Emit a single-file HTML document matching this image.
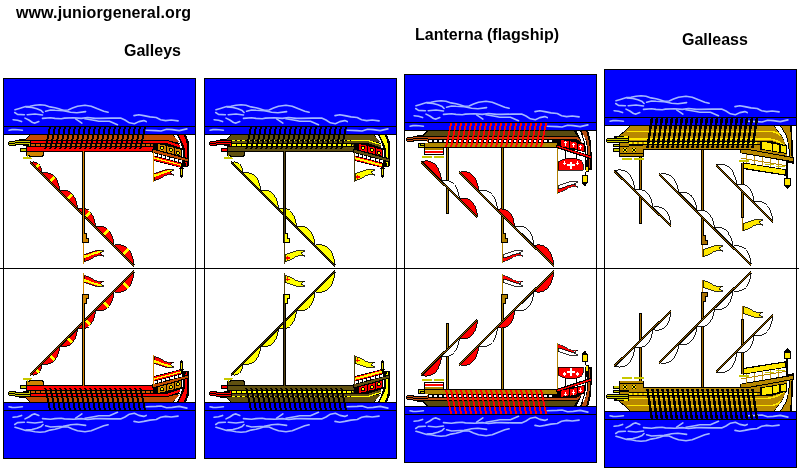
<!DOCTYPE html>
<html><head><meta charset="utf-8"><style>
html,body{margin:0;padding:0;background:#fff;width:800px;height:473px;overflow:hidden}
svg{display:block}
text{font-family:"Liberation Sans",sans-serif;font-weight:bold;font-size:16px;fill:#000}
.tx{will-change:transform}
</style></head><body>
<svg shape-rendering="crispEdges" width="800" height="473" viewBox="0 0 800 473">
<rect width="800" height="473" fill="#fff"/>
<defs><g id="p0"><rect x="4" y="79" width="191" height="55" fill="#0000ff"/>
<rect x="4" y="126" width="191" height="1" fill="#000"/>
<rect x="4" y="134" width="191" height="1" fill="#000"/>
<polyline points="15.0,109.7 19.4,108.4 25.6,106.6 30.0,106.2 35.0,105.3 40.0,104.7 45.0,105.3 50.0,106.9 55.0,107.8 58.8,108.8 63.1,110.3 68.1,110.0 72.5,108.1 77.5,106.2 85.0,105.3 91.2,106.2 97.5,108.8 103.8,111.2 108.1,112.2" fill="none" stroke="#a4b8ff" stroke-width="1.6" stroke-linejoin="round" stroke-linecap="round" shape-rendering="auto"/>
<polyline points="26.2,106.9 31.9,107.5 36.9,108.8 41.2,110.6 43.1,112.5" fill="none" stroke="#a4b8ff" stroke-width="1.6" stroke-linejoin="round" stroke-linecap="round" shape-rendering="auto"/>
<polyline points="14.7,112.5 17.5,114.4 24.4,114.7" fill="none" stroke="#a4b8ff" stroke-width="1.6" stroke-linejoin="round" stroke-linecap="round" shape-rendering="auto"/>
<polyline points="27.2,114.7 35.0,114.0 42.5,115.0" fill="none" stroke="#a4b8ff" stroke-width="1.6" stroke-linejoin="round" stroke-linecap="round" shape-rendering="auto"/>
<polyline points="45.6,111.2 50.6,110.0 55.0,110.3 63.1,110.6 66.0,111.2 70.6,112.2 76.9,112.8 85.6,111.6" fill="none" stroke="#a4b8ff" stroke-width="1.6" stroke-linejoin="round" stroke-linecap="round" shape-rendering="auto"/>
<polyline points="42.5,118.4 50.6,117.8 55.0,118.4 61.2,118.8 64.4,118.1 73.8,117.8 81.2,118.4 87.5,117.5 95.6,118.4 100.0,118.4 111.2,118.1 120.6,118.1 125.0,120.0 129.4,122.8 134.4,123.8 138.8,121.6 143.8,120.6 146.2,121.6" fill="none" stroke="#a4b8ff" stroke-width="1.6" stroke-linejoin="round" stroke-linecap="round" shape-rendering="auto"/>
<polyline points="13.1,119.7 17.5,120.3 21.6,121.6" fill="none" stroke="#a4b8ff" stroke-width="1.6" stroke-linejoin="round" stroke-linecap="round" shape-rendering="auto"/>
<polyline points="25.0,118.1 28.8,120.0 32.5,122.5 35.0,123.1 38.8,121.6" fill="none" stroke="#a4b8ff" stroke-width="1.6" stroke-linejoin="round" stroke-linecap="round" shape-rendering="auto"/>
<polyline points="75.6,118.8 81.9,123.1" fill="none" stroke="#a4b8ff" stroke-width="1.6" stroke-linejoin="round" stroke-linecap="round" shape-rendering="auto"/>
<polyline points="85.0,118.8 93.8,120.3 98.8,121.2 105.0,121.2 109.4,121.2 117.5,124.7" fill="none" stroke="#a4b8ff" stroke-width="1.6" stroke-linejoin="round" stroke-linecap="round" shape-rendering="auto"/>
<polyline points="134.0,115.6 138.8,114.7 143.8,115.6 150.0,116.9 156.2,117.5 160.6,119.7 165.6,120.6 171.2,120.0 178.1,120.9" fill="none" stroke="#a4b8ff" stroke-width="1.6" stroke-linejoin="round" stroke-linecap="round" shape-rendering="auto"/>
<polyline points="146.3,130.3 156.1,130.6 161.0,131.0 166.6,129.2 172.2,129.6 179.2,130.6 186.9,128.9" fill="none" stroke="#a4b8ff" stroke-width="1.6" stroke-linejoin="round" stroke-linecap="round" shape-rendering="auto"/>
<polyline points="9.0,130.2 12.0,129.6 15.0,129.5 18.0,129.8 22.4,130.2" fill="none" stroke="#a4b8ff" stroke-width="1.6" stroke-linejoin="round" stroke-linecap="round" shape-rendering="auto"/><polygon points="23,141 30,134 173,134 181,143 181,148 153,148 153,152 26,152 26,146 23,146" fill="#000"/>
<polygon points="25,140 30.5,135 172.5,135 176.5,139 177.5,140" fill="#c44c00"/>
<rect x="19" y="139" width="6" height="1" fill="#000"/>
<rect x="15" y="140" width="16" height="5" fill="#000"/>
<rect x="9" y="141" width="7" height="5" fill="#000"/>
<rect x="8" y="142" width="1" height="3" fill="#000"/>
<rect x="15" y="141" width="15" height="1" fill="#c8c800"/>
<rect x="15" y="143" width="14" height="1" fill="#c8c800"/>
<rect x="29" y="143" width="1" height="3" fill="#c8c800"/>
<rect x="9" y="142" width="6" height="1" fill="#c8c800"/>
<rect x="9" y="144" width="6" height="1" fill="#c8c800"/>
<rect x="31" y="141" width="136" height="2" fill="#ff0000"/>
<rect x="31" y="144" width="3.6" height="2" fill="#d05a00"/>
<rect x="36" y="144" width="3.6" height="2" fill="#d05a00"/>
<rect x="41" y="144" width="3.6" height="2" fill="#d05a00"/>
<rect x="46" y="144" width="3.6" height="2" fill="#d05a00"/>
<rect x="51" y="144" width="3.6" height="2" fill="#d05a00"/>
<rect x="56" y="144" width="3.6" height="2" fill="#d05a00"/>
<rect x="61" y="144" width="3.6" height="2" fill="#d05a00"/>
<rect x="66" y="144" width="3.6" height="2" fill="#d05a00"/>
<rect x="71" y="144" width="3.6" height="2" fill="#d05a00"/>
<rect x="76" y="144" width="3.6" height="2" fill="#d05a00"/>
<rect x="81" y="144" width="3.6" height="2" fill="#d05a00"/>
<rect x="86" y="144" width="3.6" height="2" fill="#d05a00"/>
<rect x="91" y="144" width="3.6" height="2" fill="#d05a00"/>
<rect x="96" y="144" width="3.6" height="2" fill="#d05a00"/>
<rect x="101" y="144" width="3.6" height="2" fill="#d05a00"/>
<rect x="106" y="144" width="3.6" height="2" fill="#d05a00"/>
<rect x="111" y="144" width="3.6" height="2" fill="#d05a00"/>
<rect x="116" y="144" width="3.6" height="2" fill="#d05a00"/>
<rect x="121" y="144" width="3.6" height="2" fill="#d05a00"/>
<rect x="126" y="144" width="3.6" height="2" fill="#d05a00"/>
<rect x="131" y="144" width="3.6" height="2" fill="#d05a00"/>
<rect x="136" y="144" width="3.6" height="2" fill="#d05a00"/>
<rect x="141" y="144" width="3.6" height="2" fill="#d05a00"/>
<rect x="146" y="144" width="3.6" height="2" fill="#d05a00"/>
<rect x="151" y="144" width="3.6" height="2" fill="#d05a00"/>
<rect x="27" y="147" width="125.5" height="4" fill="#ff0000"/>
<rect x="20" y="148" width="7" height="4" fill="#000"/>
<rect x="21" y="149" width="5" height="2" fill="#c8c800"/>
<polygon points="26,151 44,151 44,155 42,157 29,157 29,156 26,156" fill="#000"/>
<polygon points="27,152 43,152 43,154 41,156 30,156 30,155 27,155" fill="#d08400"/>
<rect x="27" y="155" width="1" height="2" fill="#c8c800"/>
<polygon points="23,157 31,157 32,159 23,159" fill="#c8c800"/>
<polygon points="49,127 51,127 46.4,149 44.4,149" fill="#000"/>
<polygon points="54,127 56,127 51.4,149 49.4,149" fill="#000"/>
<polygon points="59,127 61,127 56.4,149 54.4,149" fill="#000"/>
<polygon points="64,127 66,127 61.4,149 59.4,149" fill="#000"/>
<polygon points="69,127 71,127 66.4,149 64.4,149" fill="#000"/>
<polygon points="74,127 76,127 71.4,149 69.4,149" fill="#000"/>
<polygon points="79,127 81,127 76.4,149 74.4,149" fill="#000"/>
<polygon points="84,127 86,127 81.4,149 79.4,149" fill="#000"/>
<polygon points="89,127 91,127 86.4,149 84.4,149" fill="#000"/>
<polygon points="94,127 96,127 91.4,149 89.4,149" fill="#000"/>
<polygon points="99,127 101,127 96.4,149 94.4,149" fill="#000"/>
<polygon points="104,127 106,127 101.4,149 99.4,149" fill="#000"/>
<polygon points="109,127 111,127 106.4,149 104.4,149" fill="#000"/>
<polygon points="114,127 116,127 111.4,149 109.4,149" fill="#000"/>
<polygon points="119,127 121,127 116.4,149 114.4,149" fill="#000"/>
<polygon points="124,127 126,127 121.4,149 119.4,149" fill="#000"/>
<polygon points="129,127 131,127 126.4,149 124.4,149" fill="#000"/>
<polygon points="134,127 136,127 131.4,149 129.4,149" fill="#000"/>
<polygon points="139,127 141,127 136.4,149 134.4,149" fill="#000"/>
<polygon points="144,127 146,127 141.4,149 139.4,149" fill="#000"/>
<polygon points="172,134 185.5,134 188.5,141 189,152 188.5,166.5 180.5,166.5 180.5,157 179.5,148 176.5,141 172,135.5" fill="#000"/>
<polygon points="174,135 177,135 179.6,140 182,147 183.2,155 183.2,164 181.4,164 181.3,156 180,148.5 177.4,141" fill="#fff"/>
<polygon points="178.4,135 183.6,135 186,140 187.2,148 187.4,160 187.2,165.5 185.6,165.5 185.4,160 185,150 183.6,145.5 180.8,140" fill="#ff0000"/>
<polygon points="160,135 172.5,135 178,140 179.5,142.5 160,140" fill="#c44c00"/>
<polygon points="160,140 167,140 179.5,143 179.5,144 160,141" fill="#000"/>
<polygon points="160,141 167,141 179.5,145 179.5,147.3 166,143 160,143" fill="#ff0000"/>
<polygon points="151,144 157.5,144 157.5,148.5 155,148.5" fill="#c44c00"/>
<polygon points="153,143 166,143 182,148 182,157.5 153,150" fill="#000"/>
<polygon points="158,144 165.8,145.72 165.8,151.92 158,150" fill="#d08400"/>
<circle cx="162" cy="147.8" r="2" fill="#000"/><circle cx="162" cy="147.8" r="1.15" fill="#f0f000"/>
<polygon points="166.9,146.2 173.9,147.74 173.9,153.94 166.9,152.2" fill="#d08400"/>
<circle cx="170.9" cy="149.9" r="2" fill="#000"/><circle cx="170.9" cy="149.9" r="1.15" fill="#f0f000"/>
<polygon points="174.7,148.3 181.0,149.69 181.0,155.89 174.7,154.3" fill="#d08400"/>
<circle cx="177.9" cy="152.9" r="2" fill="#000"/><circle cx="177.9" cy="152.9" r="1.15" fill="#f0f000"/>
<polygon points="152,149.3 155,149.3 188.5,158.3 189,162.5 152,153" fill="#000"/>
<polygon points="153,150.2 155,150.2 187.5,159.2 187.5,161.2 153,152.1" fill="#c44c00"/>
<polygon points="153,152.5 183,160.5 183,164 153,156" fill="#000"/>
<polygon points="153.5,153.0 156.7,153.9 156.7,156.5 153.5,155.7" fill="#fff"/>
<polygon points="157.7,154.1 160.89999999999998,155.0 160.89999999999998,157.6 157.7,156.8" fill="#fff"/>
<polygon points="161.9,155.3 165.1,156.1 165.1,158.8 161.9,158.0" fill="#fff"/>
<polygon points="166.1,156.4 169.29999999999998,157.2 169.29999999999998,159.9 166.1,159.1" fill="#fff"/>
<polygon points="170.3,157.5 173.5,158.3 173.5,161.0 170.3,160.2" fill="#fff"/>
<polygon points="174.5,158.6 177.7,159.4 177.7,162.1 174.5,161.3" fill="#fff"/>
<polygon points="178.7,159.7 181.89999999999998,160.6 181.89999999999998,163.2 178.7,162.4" fill="#fff"/>
<polygon points="153,155.2 181.5,162.6 181.5,168 153,160.8" fill="#000"/>
<polygon points="153.6,156 180.7,163.2 180.7,167.2 153.6,160" fill="#ff0000"/>
<polygon points="153.6,157.2 180.7,164.4 180.7,165.6 153.6,158.5" fill="#ffff00"/>
<rect x="180" y="166.5" width="3" height="10" fill="#000"/>
<rect x="180.8" y="168.5" width="1.4" height="6" fill="#f0e000"/>
<rect x="179" y="167.5" width="5" height="1" fill="#000"/>
<rect x="181" y="176" width="1" height="1.5" fill="#000"/>
<rect x="153" y="151" width="1" height="31" fill="#d08400"/>
<path d="M154,173.5 C160,172.5 164,169.2 168.5,169.4 L174,169.8 L170,171.8 L173.5,175 L169,174.3 C164,174.8 160,180 154,180.5 Z" fill="#ff0000" stroke="#000" stroke-width="0.8"/><path d="M154,174.6 C160,173.6 164,170.4 168.5,170.3 L172.5,170.3 L170,171.8 L168.5,172.3 C164,172.5 160,175.8 154,177.3 Z" fill="#ffff00"/>
<path d="M31.3,162.2 C32.0,162.2 40.6,159.4 42.2,173.1 Z" fill="#ff0000" stroke="#000" stroke-width="0.9"/>
<polygon points="34.5,166.6 37.9,163.3 39.9,165.6 36.7,168.8" fill="#ffff00"/>
<path d="M42.2,173.1 C43.3,173.1 57.2,168.6 59.8,190.7 Z" fill="#ff0000" stroke="#000" stroke-width="0.9"/>
<polygon points="48.5,180.6 53.5,175.5 55.5,177.8 50.6,182.7" fill="#ffff00"/>
<path d="M59.8,190.7 C60.9,190.7 74.9,186.1 77.6,208.5 Z" fill="#ff0000" stroke="#000" stroke-width="0.9"/>
<polygon points="66.1,198.3 71.2,193.2 73.3,195.4 68.3,200.4" fill="#ffff00"/>
<path d="M77.6,208.5 C78.7,208.5 92.9,203.9 95.6,226.6 Z" fill="#ff0000" stroke="#000" stroke-width="0.9"/>
<polygon points="84.0,216.2 89.2,211.0 91.2,213.3 86.2,218.3" fill="#ffff00"/>
<path d="M95.6,226.6 C96.7,226.6 111.3,221.8 114.1,245.1 Z" fill="#ff0000" stroke="#000" stroke-width="0.9"/>
<polygon points="102.3,234.4 107.5,229.2 109.5,231.4 104.4,236.6" fill="#ffff00"/>
<path d="M114.1,245.1 C115.3,245.1 131.2,239.9 134.2,265.2 Z" fill="#ff0000" stroke="#000" stroke-width="0.9"/>
<polygon points="121.5,253.7 127.2,248.0 129.2,250.2 123.6,255.8" fill="#ffff00"/>
<path d="M30 161h1v3h-1zM31 162h1v3h-1zM32 163h1v3h-1zM33 164h1v3h-1zM34 165h1v3h-1zM35 166h1v3h-1zM36 167h1v3h-1zM37 168h1v3h-1zM38 169h1v3h-1zM39 170h1v3h-1zM40 171h1v3h-1zM41 172h1v3h-1zM42 173h1v3h-1zM43 174h1v3h-1zM44 175h1v3h-1zM45 176h1v3h-1zM46 177h1v3h-1zM47 178h1v3h-1zM48 179h1v3h-1zM49 180h1v3h-1zM50 181h1v3h-1zM51 182h1v3h-1zM52 183h1v3h-1zM53 184h1v3h-1zM54 185h1v3h-1zM55 186h1v3h-1zM56 187h1v3h-1zM57 188h1v3h-1zM58 189h1v3h-1zM59 190h1v3h-1zM60 191h1v3h-1zM61 192h1v3h-1zM62 193h1v3h-1zM63 194h1v3h-1zM64 195h1v3h-1zM65 196h1v3h-1zM66 197h1v3h-1zM67 198h1v3h-1zM68 199h1v3h-1zM69 200h1v3h-1zM70 201h1v3h-1zM71 202h1v3h-1zM72 203h1v3h-1zM73 204h1v3h-1zM74 205h1v3h-1zM75 206h1v3h-1zM76 207h1v3h-1zM77 208h1v3h-1zM78 209h1v3h-1zM79 210h1v3h-1zM80 211h1v3h-1zM81 212h1v3h-1zM82 213h1v3h-1zM83 214h1v3h-1zM84 215h1v3h-1zM85 216h1v3h-1zM86 217h1v3h-1zM87 218h1v3h-1zM88 219h1v3h-1zM89 220h1v3h-1zM90 221h1v3h-1zM91 222h1v3h-1zM92 223h1v3h-1zM93 224h1v3h-1zM94 225h1v3h-1zM95 226h1v3h-1zM96 227h1v3h-1zM97 228h1v3h-1zM98 229h1v3h-1zM99 230h1v3h-1zM100 231h1v3h-1zM101 232h1v3h-1zM102 233h1v3h-1zM103 234h1v3h-1zM104 235h1v3h-1zM105 236h1v3h-1zM106 237h1v3h-1zM107 238h1v3h-1zM108 239h1v3h-1zM109 240h1v3h-1zM110 241h1v3h-1zM111 242h1v3h-1zM112 243h1v3h-1zM113 244h1v3h-1zM114 245h1v3h-1zM115 246h1v3h-1zM116 247h1v3h-1zM117 248h1v3h-1zM118 249h1v3h-1zM119 250h1v3h-1zM120 251h1v3h-1zM121 252h1v3h-1zM122 253h1v3h-1zM123 254h1v3h-1zM124 255h1v3h-1zM125 256h1v3h-1zM126 257h1v3h-1zM127 258h1v3h-1zM128 259h1v3h-1zM129 260h1v3h-1zM130 261h1v3h-1zM131 262h1v3h-1zM132 263h1v3h-1zM133 264h1v3h-1z" fill="#000"/><path d="M30 162h1v1h-1zM31 163h1v1h-1zM32 164h1v1h-1zM33 165h1v1h-1zM34 166h1v1h-1zM35 167h1v1h-1zM36 168h1v1h-1zM37 169h1v1h-1zM38 170h1v1h-1zM39 171h1v1h-1zM40 172h1v1h-1zM41 173h1v1h-1zM42 174h1v1h-1zM43 175h1v1h-1zM44 176h1v1h-1zM45 177h1v1h-1zM46 178h1v1h-1zM47 179h1v1h-1zM48 180h1v1h-1zM49 181h1v1h-1zM50 182h1v1h-1zM51 183h1v1h-1zM52 184h1v1h-1zM53 185h1v1h-1zM54 186h1v1h-1zM55 187h1v1h-1zM56 188h1v1h-1zM57 189h1v1h-1zM58 190h1v1h-1zM59 191h1v1h-1zM60 192h1v1h-1zM61 193h1v1h-1zM62 194h1v1h-1zM63 195h1v1h-1zM64 196h1v1h-1zM65 197h1v1h-1zM66 198h1v1h-1zM67 199h1v1h-1zM68 200h1v1h-1zM69 201h1v1h-1zM70 202h1v1h-1zM71 203h1v1h-1zM72 204h1v1h-1zM73 205h1v1h-1zM74 206h1v1h-1zM75 207h1v1h-1zM76 208h1v1h-1zM77 209h1v1h-1zM78 210h1v1h-1zM79 211h1v1h-1zM80 212h1v1h-1zM81 213h1v1h-1zM82 214h1v1h-1zM83 215h1v1h-1zM84 216h1v1h-1zM85 217h1v1h-1zM86 218h1v1h-1zM87 219h1v1h-1zM88 220h1v1h-1zM89 221h1v1h-1zM90 222h1v1h-1zM91 223h1v1h-1zM92 224h1v1h-1zM93 225h1v1h-1zM94 226h1v1h-1zM95 227h1v1h-1zM96 228h1v1h-1zM97 229h1v1h-1zM98 230h1v1h-1zM99 231h1v1h-1zM100 232h1v1h-1zM101 233h1v1h-1zM102 234h1v1h-1zM103 235h1v1h-1zM104 236h1v1h-1zM105 237h1v1h-1zM106 238h1v1h-1zM107 239h1v1h-1zM108 240h1v1h-1zM109 241h1v1h-1zM110 242h1v1h-1zM111 243h1v1h-1zM112 244h1v1h-1zM113 245h1v1h-1zM114 246h1v1h-1zM115 247h1v1h-1zM116 248h1v1h-1zM117 249h1v1h-1zM118 250h1v1h-1zM119 251h1v1h-1zM120 252h1v1h-1zM121 253h1v1h-1zM122 254h1v1h-1zM123 255h1v1h-1zM124 256h1v1h-1zM125 257h1v1h-1zM126 258h1v1h-1zM127 259h1v1h-1zM128 260h1v1h-1zM129 261h1v1h-1zM130 262h1v1h-1zM131 263h1v1h-1zM132 264h1v1h-1zM133 265h1v1h-1z" fill="#a05a00"/>
<rect x="82" y="151" width="3" height="92" fill="#000"/>
<rect x="83" y="151" width="1" height="91" fill="#d08400"/>
<polygon points="84,233 87,233 87,238 89,238 89,243 84,243" fill="#000"/>
<polygon points="84,234 86,234 86,239 88,239 88,242 84,242" fill="#d08400"/>
<rect x="83" y="243" width="1" height="21" fill="#d08400"/>
<path d="M84,254.5 C90,253.5 94,250.2 98.5,250.4 L104,250.8 L100,252.8 L103.5,256 L99,255.3 C94,255.8 90,261 84,261.5 Z" fill="#ff0000" stroke="#000" stroke-width="0.8"/><path d="M84,255.6 C90,254.6 94,251.4 98.5,251.3 L102.5,251.3 L100,252.8 L98.5,253.3 C94,253.5 90,256.8 84,258.3 Z" fill="#ffff00"/></g>
<g id="p1"><rect x="205" y="79" width="191" height="55" fill="#0000ff"/>
<rect x="205" y="126" width="191" height="1" fill="#000"/>
<rect x="205" y="134" width="191" height="1" fill="#000"/>
<polyline points="216.0,109.7 220.4,108.4 226.6,106.6 231.0,106.2 236.0,105.3 241.0,104.7 246.0,105.3 251.0,106.9 256.0,107.8 259.8,108.8 264.1,110.3 269.1,110.0 273.5,108.1 278.5,106.2 286.0,105.3 292.2,106.2 298.5,108.8 304.8,111.2 309.1,112.2" fill="none" stroke="#a4b8ff" stroke-width="1.6" stroke-linejoin="round" stroke-linecap="round" shape-rendering="auto"/>
<polyline points="227.2,106.9 232.9,107.5 237.9,108.8 242.2,110.6 244.1,112.5" fill="none" stroke="#a4b8ff" stroke-width="1.6" stroke-linejoin="round" stroke-linecap="round" shape-rendering="auto"/>
<polyline points="215.7,112.5 218.5,114.4 225.4,114.7" fill="none" stroke="#a4b8ff" stroke-width="1.6" stroke-linejoin="round" stroke-linecap="round" shape-rendering="auto"/>
<polyline points="228.2,114.7 236.0,114.0 243.5,115.0" fill="none" stroke="#a4b8ff" stroke-width="1.6" stroke-linejoin="round" stroke-linecap="round" shape-rendering="auto"/>
<polyline points="246.6,111.2 251.6,110.0 256.0,110.3 264.1,110.6 267.0,111.2 271.6,112.2 277.9,112.8 286.6,111.6" fill="none" stroke="#a4b8ff" stroke-width="1.6" stroke-linejoin="round" stroke-linecap="round" shape-rendering="auto"/>
<polyline points="243.5,118.4 251.6,117.8 256.0,118.4 262.2,118.8 265.4,118.1 274.8,117.8 282.2,118.4 288.5,117.5 296.6,118.4 301.0,118.4 312.2,118.1 321.6,118.1 326.0,120.0 330.4,122.8 335.4,123.8 339.8,121.6 344.8,120.6 347.2,121.6" fill="none" stroke="#a4b8ff" stroke-width="1.6" stroke-linejoin="round" stroke-linecap="round" shape-rendering="auto"/>
<polyline points="214.1,119.7 218.5,120.3 222.6,121.6" fill="none" stroke="#a4b8ff" stroke-width="1.6" stroke-linejoin="round" stroke-linecap="round" shape-rendering="auto"/>
<polyline points="226.0,118.1 229.8,120.0 233.5,122.5 236.0,123.1 239.8,121.6" fill="none" stroke="#a4b8ff" stroke-width="1.6" stroke-linejoin="round" stroke-linecap="round" shape-rendering="auto"/>
<polyline points="276.6,118.8 282.9,123.1" fill="none" stroke="#a4b8ff" stroke-width="1.6" stroke-linejoin="round" stroke-linecap="round" shape-rendering="auto"/>
<polyline points="286.0,118.8 294.8,120.3 299.8,121.2 306.0,121.2 310.4,121.2 318.5,124.7" fill="none" stroke="#a4b8ff" stroke-width="1.6" stroke-linejoin="round" stroke-linecap="round" shape-rendering="auto"/>
<polyline points="335.0,115.6 339.8,114.7 344.8,115.6 351.0,116.9 357.2,117.5 361.6,119.7 366.6,120.6 372.2,120.0 379.1,120.9" fill="none" stroke="#a4b8ff" stroke-width="1.6" stroke-linejoin="round" stroke-linecap="round" shape-rendering="auto"/>
<polyline points="347.3,130.3 357.1,130.6 362.0,131.0 367.6,129.2 373.2,129.6 380.2,130.6 387.9,128.9" fill="none" stroke="#a4b8ff" stroke-width="1.6" stroke-linejoin="round" stroke-linecap="round" shape-rendering="auto"/>
<polyline points="210.0,130.2 213.0,129.6 216.0,129.5 219.0,129.8 223.4,130.2" fill="none" stroke="#a4b8ff" stroke-width="1.6" stroke-linejoin="round" stroke-linecap="round" shape-rendering="auto"/><polygon points="224,141 231,134 374,134 382,143 382,148 354,148 354,152 227,152 227,146 224,146" fill="#000"/>
<polygon points="226,140 231.5,135 373.5,135 377.5,139 378.5,140" fill="#605010"/>
<rect x="220" y="139" width="6" height="1" fill="#000"/>
<rect x="216" y="140" width="16" height="5" fill="#000"/>
<rect x="210" y="141" width="7" height="5" fill="#000"/>
<rect x="209" y="142" width="1" height="3" fill="#000"/>
<rect x="216" y="141" width="15" height="1" fill="#ff0000"/>
<rect x="216" y="143" width="14" height="1" fill="#ff0000"/>
<rect x="230" y="143" width="1" height="3" fill="#ff0000"/>
<rect x="210" y="142" width="6" height="1" fill="#ff0000"/>
<rect x="210" y="144" width="6" height="1" fill="#ff0000"/>
<rect x="232" y="140" width="3" height="1.2" fill="#ffff00"/>
<rect x="237" y="140" width="3" height="1.2" fill="#ffff00"/>
<rect x="242" y="140" width="3" height="1.2" fill="#ffff00"/>
<rect x="247" y="140" width="3" height="1.2" fill="#ffff00"/>
<rect x="252" y="140" width="3" height="1.2" fill="#ffff00"/>
<rect x="257" y="140" width="3" height="1.2" fill="#ffff00"/>
<rect x="262" y="140" width="3" height="1.2" fill="#ffff00"/>
<rect x="267" y="140" width="3" height="1.2" fill="#ffff00"/>
<rect x="272" y="140" width="3" height="1.2" fill="#ffff00"/>
<rect x="277" y="140" width="3" height="1.2" fill="#ffff00"/>
<rect x="282" y="140" width="3" height="1.2" fill="#ffff00"/>
<rect x="287" y="140" width="3" height="1.2" fill="#ffff00"/>
<rect x="292" y="140" width="3" height="1.2" fill="#ffff00"/>
<rect x="297" y="140" width="3" height="1.2" fill="#ffff00"/>
<rect x="302" y="140" width="3" height="1.2" fill="#ffff00"/>
<rect x="307" y="140" width="3" height="1.2" fill="#ffff00"/>
<rect x="312" y="140" width="3" height="1.2" fill="#ffff00"/>
<rect x="317" y="140" width="3" height="1.2" fill="#ffff00"/>
<rect x="322" y="140" width="3" height="1.2" fill="#ffff00"/>
<rect x="327" y="140" width="3" height="1.2" fill="#ffff00"/>
<rect x="332" y="140" width="3" height="1.2" fill="#ffff00"/>
<rect x="337" y="140" width="3" height="1.2" fill="#ffff00"/>
<rect x="342" y="140" width="3" height="1.2" fill="#ffff00"/>
<rect x="347" y="140" width="3" height="1.2" fill="#ffff00"/>
<rect x="352" y="140" width="3" height="1.2" fill="#ffff00"/>
<rect x="357" y="140" width="3" height="1.2" fill="#ffff00"/>
<rect x="362" y="140" width="3" height="1.2" fill="#ffff00"/>
<rect x="367" y="140" width="3" height="1.2" fill="#ffff00"/>
<rect x="232" y="141" width="136" height="2" fill="#605010"/>
<rect x="232" y="144" width="3.6" height="2" fill="#ffff00"/>
<rect x="237" y="144" width="3.6" height="2" fill="#ffff00"/>
<rect x="242" y="144" width="3.6" height="2" fill="#ffff00"/>
<rect x="247" y="144" width="3.6" height="2" fill="#ffff00"/>
<rect x="252" y="144" width="3.6" height="2" fill="#ffff00"/>
<rect x="257" y="144" width="3.6" height="2" fill="#ffff00"/>
<rect x="262" y="144" width="3.6" height="2" fill="#ffff00"/>
<rect x="267" y="144" width="3.6" height="2" fill="#ffff00"/>
<rect x="272" y="144" width="3.6" height="2" fill="#ffff00"/>
<rect x="277" y="144" width="3.6" height="2" fill="#ffff00"/>
<rect x="282" y="144" width="3.6" height="2" fill="#ffff00"/>
<rect x="287" y="144" width="3.6" height="2" fill="#ffff00"/>
<rect x="292" y="144" width="3.6" height="2" fill="#ffff00"/>
<rect x="297" y="144" width="3.6" height="2" fill="#ffff00"/>
<rect x="302" y="144" width="3.6" height="2" fill="#ffff00"/>
<rect x="307" y="144" width="3.6" height="2" fill="#ffff00"/>
<rect x="312" y="144" width="3.6" height="2" fill="#ffff00"/>
<rect x="317" y="144" width="3.6" height="2" fill="#ffff00"/>
<rect x="322" y="144" width="3.6" height="2" fill="#ffff00"/>
<rect x="327" y="144" width="3.6" height="2" fill="#ffff00"/>
<rect x="332" y="144" width="3.6" height="2" fill="#ffff00"/>
<rect x="337" y="144" width="3.6" height="2" fill="#ffff00"/>
<rect x="342" y="144" width="3.6" height="2" fill="#ffff00"/>
<rect x="347" y="144" width="3.6" height="2" fill="#ffff00"/>
<rect x="352" y="144" width="3.6" height="2" fill="#ffff00"/>
<rect x="228" y="147" width="125.5" height="4" fill="#605010"/>
<rect x="221" y="148" width="7" height="4" fill="#000"/>
<rect x="222" y="149" width="5" height="2" fill="#ff0000"/>
<polygon points="227,151 245,151 245,155 243,157 230,157 230,156 227,156" fill="#000"/>
<polygon points="228,152 244,152 244,154 242,156 231,156 231,155 228,155" fill="#605010"/>
<rect x="228" y="155" width="1" height="2" fill="#c8c800"/>
<polygon points="224,157 232,157 233,159 224,159" fill="#c8c800"/>
<polygon points="250,127 252,127 247.4,149 245.4,149" fill="#000"/>
<polygon points="255,127 257,127 252.4,149 250.4,149" fill="#000"/>
<polygon points="260,127 262,127 257.4,149 255.4,149" fill="#000"/>
<polygon points="265,127 267,127 262.4,149 260.4,149" fill="#000"/>
<polygon points="270,127 272,127 267.4,149 265.4,149" fill="#000"/>
<polygon points="275,127 277,127 272.4,149 270.4,149" fill="#000"/>
<polygon points="280,127 282,127 277.4,149 275.4,149" fill="#000"/>
<polygon points="285,127 287,127 282.4,149 280.4,149" fill="#000"/>
<polygon points="290,127 292,127 287.4,149 285.4,149" fill="#000"/>
<polygon points="295,127 297,127 292.4,149 290.4,149" fill="#000"/>
<polygon points="300,127 302,127 297.4,149 295.4,149" fill="#000"/>
<polygon points="305,127 307,127 302.4,149 300.4,149" fill="#000"/>
<polygon points="310,127 312,127 307.4,149 305.4,149" fill="#000"/>
<polygon points="315,127 317,127 312.4,149 310.4,149" fill="#000"/>
<polygon points="320,127 322,127 317.4,149 315.4,149" fill="#000"/>
<polygon points="325,127 327,127 322.4,149 320.4,149" fill="#000"/>
<polygon points="330,127 332,127 327.4,149 325.4,149" fill="#000"/>
<polygon points="335,127 337,127 332.4,149 330.4,149" fill="#000"/>
<polygon points="340,127 342,127 337.4,149 335.4,149" fill="#000"/>
<polygon points="345,127 347,127 342.4,149 340.4,149" fill="#000"/>
<polygon points="373,134 386.5,134 389.5,141 390,152 389.5,166.5 381.5,166.5 381.5,157 380.5,148 377.5,141 373,135.5" fill="#000"/>
<polygon points="375,135 378,135 380.6,140 383,147 384.2,155 384.2,164 382.4,164 382.3,156 381,148.5 378.4,141" fill="#fff"/>
<polygon points="379.4,135 384.6,135 387,140 388.2,148 388.4,160 388.2,165.5 386.6,165.5 386.4,160 386,150 384.6,145.5 381.8,140" fill="#ffff00"/>
<polygon points="361,135 373.5,135 379,140 380.5,142.5 361,140" fill="#605010"/>
<polygon points="361,140 368,140 380.5,143 380.5,144 361,141" fill="#000"/>
<polygon points="361,141 368,141 380.5,145 380.5,147.3 367,143 361,143" fill="#605010"/>
<polygon points="351,140 368,140 380.5,144 380.5,145 367.5,141.1 351,141.1" fill="#ffff00"/>
<polygon points="352,144 358.5,144 358.5,148.5 356,148.5" fill="#605010"/>
<polygon points="354,143 367,143 383,148 383,157.5 354,150" fill="#000"/>
<polygon points="359,144 366.8,145.72 366.8,151.92 359,150" fill="#ff0000"/>
<circle cx="363" cy="147.8" r="2" fill="#000"/><circle cx="363" cy="147.8" r="1.15" fill="#ffff00"/>
<polygon points="367.9,146.2 374.9,147.74 374.9,153.94 367.9,152.2" fill="#ff0000"/>
<circle cx="371.9" cy="149.9" r="2" fill="#000"/><circle cx="371.9" cy="149.9" r="1.15" fill="#ffff00"/>
<polygon points="375.7,148.3 382.0,149.69 382.0,155.89 375.7,154.3" fill="#ff0000"/>
<circle cx="378.9" cy="152.9" r="2" fill="#000"/><circle cx="378.9" cy="152.9" r="1.15" fill="#ffff00"/>
<polygon points="353,149.3 356,149.3 389.5,158.3 390,162.5 353,153" fill="#000"/>
<polygon points="354,150.2 356,150.2 388.5,159.2 388.5,161.2 354,152.1" fill="#605010"/>
<polygon points="354,152.5 384,160.5 384,164 354,156" fill="#000"/>
<polygon points="354.5,153.0 357.7,153.9 357.7,156.5 354.5,155.7" fill="#fff"/>
<polygon points="358.7,154.1 361.9,155.0 361.9,157.6 358.7,156.8" fill="#fff"/>
<polygon points="362.9,155.3 366.1,156.1 366.1,158.8 362.9,158.0" fill="#fff"/>
<polygon points="367.1,156.4 370.29999999999995,157.2 370.29999999999995,159.9 367.1,159.1" fill="#fff"/>
<polygon points="371.3,157.5 374.5,158.3 374.5,161.0 371.3,160.2" fill="#fff"/>
<polygon points="375.5,158.6 378.7,159.4 378.7,162.1 375.5,161.3" fill="#fff"/>
<polygon points="379.7,159.7 382.9,160.6 382.9,163.2 379.7,162.4" fill="#fff"/>
<polygon points="354,155.2 382.5,162.6 382.5,168 354,160.8" fill="#000"/>
<polygon points="354.6,156 381.7,163.2 381.7,167.2 354.6,160" fill="#ff0000"/>
<polygon points="354.6,157 381.7,164.2 381.7,166.3 354.6,159.1" fill="#ffff00"/>
<rect x="381" y="166.5" width="3" height="10" fill="#000"/>
<rect x="381.8" y="168.5" width="1.4" height="6" fill="#f0e000"/>
<rect x="380" y="167.5" width="5" height="1" fill="#000"/>
<rect x="382" y="176" width="1" height="1.5" fill="#000"/>
<rect x="354" y="151" width="1" height="31" fill="#504010"/>
<path d="M355,173.5 C361,172.5 365,169.2 369.5,169.4 L375,169.8 L371,171.8 L374.5,175 L370,174.3 C365,174.8 361,180 355,180.5 Z" fill="#ffff00" stroke="#000" stroke-width="0.8"/><rect x="357.2" y="174.6" width="1.1" height="4.4" fill="#ff0000"/><rect x="355.6" y="176.4" width="4.4" height="1.1" fill="#ff0000"/>
<path d="M232.3,162.2 C233.0,162.2 241.6,159.4 243.2,173.1 Z" fill="#ffff00" stroke="#000" stroke-width="0.9"/>
<path d="M243.2,173.1 C244.3,173.1 258.2,168.6 260.8,190.7 Z" fill="#ffff00" stroke="#000" stroke-width="0.9"/>
<path d="M260.8,190.7 C261.9,190.7 275.9,186.1 278.6,208.5 Z" fill="#ffff00" stroke="#000" stroke-width="0.9"/>
<path d="M278.6,208.5 C279.7,208.5 293.9,203.9 296.6,226.6 Z" fill="#ffff00" stroke="#000" stroke-width="0.9"/>
<path d="M296.6,226.6 C297.7,226.6 312.3,221.8 315.1,245.1 Z" fill="#ffff00" stroke="#000" stroke-width="0.9"/>
<path d="M315.1,245.1 C316.3,245.1 332.2,239.9 335.2,265.2 Z" fill="#ffff00" stroke="#000" stroke-width="0.9"/>
<path d="M231 161h1v3h-1zM232 162h1v3h-1zM233 163h1v3h-1zM234 164h1v3h-1zM235 165h1v3h-1zM236 166h1v3h-1zM237 167h1v3h-1zM238 168h1v3h-1zM239 169h1v3h-1zM240 170h1v3h-1zM241 171h1v3h-1zM242 172h1v3h-1zM243 173h1v3h-1zM244 174h1v3h-1zM245 175h1v3h-1zM246 176h1v3h-1zM247 177h1v3h-1zM248 178h1v3h-1zM249 179h1v3h-1zM250 180h1v3h-1zM251 181h1v3h-1zM252 182h1v3h-1zM253 183h1v3h-1zM254 184h1v3h-1zM255 185h1v3h-1zM256 186h1v3h-1zM257 187h1v3h-1zM258 188h1v3h-1zM259 189h1v3h-1zM260 190h1v3h-1zM261 191h1v3h-1zM262 192h1v3h-1zM263 193h1v3h-1zM264 194h1v3h-1zM265 195h1v3h-1zM266 196h1v3h-1zM267 197h1v3h-1zM268 198h1v3h-1zM269 199h1v3h-1zM270 200h1v3h-1zM271 201h1v3h-1zM272 202h1v3h-1zM273 203h1v3h-1zM274 204h1v3h-1zM275 205h1v3h-1zM276 206h1v3h-1zM277 207h1v3h-1zM278 208h1v3h-1zM279 209h1v3h-1zM280 210h1v3h-1zM281 211h1v3h-1zM282 212h1v3h-1zM283 213h1v3h-1zM284 214h1v3h-1zM285 215h1v3h-1zM286 216h1v3h-1zM287 217h1v3h-1zM288 218h1v3h-1zM289 219h1v3h-1zM290 220h1v3h-1zM291 221h1v3h-1zM292 222h1v3h-1zM293 223h1v3h-1zM294 224h1v3h-1zM295 225h1v3h-1zM296 226h1v3h-1zM297 227h1v3h-1zM298 228h1v3h-1zM299 229h1v3h-1zM300 230h1v3h-1zM301 231h1v3h-1zM302 232h1v3h-1zM303 233h1v3h-1zM304 234h1v3h-1zM305 235h1v3h-1zM306 236h1v3h-1zM307 237h1v3h-1zM308 238h1v3h-1zM309 239h1v3h-1zM310 240h1v3h-1zM311 241h1v3h-1zM312 242h1v3h-1zM313 243h1v3h-1zM314 244h1v3h-1zM315 245h1v3h-1zM316 246h1v3h-1zM317 247h1v3h-1zM318 248h1v3h-1zM319 249h1v3h-1zM320 250h1v3h-1zM321 251h1v3h-1zM322 252h1v3h-1zM323 253h1v3h-1zM324 254h1v3h-1zM325 255h1v3h-1zM326 256h1v3h-1zM327 257h1v3h-1zM328 258h1v3h-1zM329 259h1v3h-1zM330 260h1v3h-1zM331 261h1v3h-1zM332 262h1v3h-1zM333 263h1v3h-1zM334 264h1v3h-1z" fill="#000"/><path d="M231 162h1v1h-1zM232 163h1v1h-1zM233 164h1v1h-1zM234 165h1v1h-1zM235 166h1v1h-1zM236 167h1v1h-1zM237 168h1v1h-1zM238 169h1v1h-1zM239 170h1v1h-1zM240 171h1v1h-1zM241 172h1v1h-1zM242 173h1v1h-1zM243 174h1v1h-1zM244 175h1v1h-1zM245 176h1v1h-1zM246 177h1v1h-1zM247 178h1v1h-1zM248 179h1v1h-1zM249 180h1v1h-1zM250 181h1v1h-1zM251 182h1v1h-1zM252 183h1v1h-1zM253 184h1v1h-1zM254 185h1v1h-1zM255 186h1v1h-1zM256 187h1v1h-1zM257 188h1v1h-1zM258 189h1v1h-1zM259 190h1v1h-1zM260 191h1v1h-1zM261 192h1v1h-1zM262 193h1v1h-1zM263 194h1v1h-1zM264 195h1v1h-1zM265 196h1v1h-1zM266 197h1v1h-1zM267 198h1v1h-1zM268 199h1v1h-1zM269 200h1v1h-1zM270 201h1v1h-1zM271 202h1v1h-1zM272 203h1v1h-1zM273 204h1v1h-1zM274 205h1v1h-1zM275 206h1v1h-1zM276 207h1v1h-1zM277 208h1v1h-1zM278 209h1v1h-1zM279 210h1v1h-1zM280 211h1v1h-1zM281 212h1v1h-1zM282 213h1v1h-1zM283 214h1v1h-1zM284 215h1v1h-1zM285 216h1v1h-1zM286 217h1v1h-1zM287 218h1v1h-1zM288 219h1v1h-1zM289 220h1v1h-1zM290 221h1v1h-1zM291 222h1v1h-1zM292 223h1v1h-1zM293 224h1v1h-1zM294 225h1v1h-1zM295 226h1v1h-1zM296 227h1v1h-1zM297 228h1v1h-1zM298 229h1v1h-1zM299 230h1v1h-1zM300 231h1v1h-1zM301 232h1v1h-1zM302 233h1v1h-1zM303 234h1v1h-1zM304 235h1v1h-1zM305 236h1v1h-1zM306 237h1v1h-1zM307 238h1v1h-1zM308 239h1v1h-1zM309 240h1v1h-1zM310 241h1v1h-1zM311 242h1v1h-1zM312 243h1v1h-1zM313 244h1v1h-1zM314 245h1v1h-1zM315 246h1v1h-1zM316 247h1v1h-1zM317 248h1v1h-1zM318 249h1v1h-1zM319 250h1v1h-1zM320 251h1v1h-1zM321 252h1v1h-1zM322 253h1v1h-1zM323 254h1v1h-1zM324 255h1v1h-1zM325 256h1v1h-1zM326 257h1v1h-1zM327 258h1v1h-1zM328 259h1v1h-1zM329 260h1v1h-1zM330 261h1v1h-1zM331 262h1v1h-1zM332 263h1v1h-1zM333 264h1v1h-1zM334 265h1v1h-1z" fill="#504010"/>
<rect x="283" y="151" width="3" height="92" fill="#000"/>
<rect x="284" y="151" width="1" height="91" fill="#504010"/>
<polygon points="285,233 288,233 288,238 290,238 290,243 285,243" fill="#000"/>
<polygon points="285,234 287,234 287,239 289,239 289,242 285,242" fill="#ffff00"/>
<rect x="284" y="243" width="1" height="21" fill="#504010"/>
<path d="M285,254.5 C291,253.5 295,250.2 299.5,250.4 L305,250.8 L301,252.8 L304.5,256 L300,255.3 C295,255.8 291,261 285,261.5 Z" fill="#ffff00" stroke="#000" stroke-width="0.8"/><rect x="287.2" y="255.6" width="1.1" height="4.4" fill="#ff0000"/><rect x="285.6" y="257.4" width="4.4" height="1.1" fill="#ff0000"/></g>
<g id="p2"><rect x="405" y="75" width="191" height="55" fill="#0000ff"/>
<rect x="405" y="122" width="191" height="1" fill="#000"/>
<rect x="405" y="130" width="191" height="1" fill="#000"/>
<polyline points="416.0,105.7 420.4,104.4 426.6,102.6 431.0,102.2 436.0,101.3 441.0,100.7 446.0,101.3 451.0,102.9 456.0,103.8 459.8,104.8 464.1,106.3 469.1,106.0 473.5,104.1 478.5,102.2 486.0,101.3 492.2,102.2 498.5,104.8 504.8,107.2 509.1,108.2" fill="none" stroke="#a4b8ff" stroke-width="1.6" stroke-linejoin="round" stroke-linecap="round" shape-rendering="auto"/>
<polyline points="427.2,102.9 432.9,103.5 437.9,104.8 442.2,106.6 444.1,108.5" fill="none" stroke="#a4b8ff" stroke-width="1.6" stroke-linejoin="round" stroke-linecap="round" shape-rendering="auto"/>
<polyline points="415.7,108.5 418.5,110.4 425.4,110.7" fill="none" stroke="#a4b8ff" stroke-width="1.6" stroke-linejoin="round" stroke-linecap="round" shape-rendering="auto"/>
<polyline points="428.2,110.7 436.0,110.0 443.5,111.0" fill="none" stroke="#a4b8ff" stroke-width="1.6" stroke-linejoin="round" stroke-linecap="round" shape-rendering="auto"/>
<polyline points="446.6,107.2 451.6,106.0 456.0,106.3 464.1,106.6 467.0,107.2 471.6,108.2 477.9,108.8 486.6,107.6" fill="none" stroke="#a4b8ff" stroke-width="1.6" stroke-linejoin="round" stroke-linecap="round" shape-rendering="auto"/>
<polyline points="443.5,114.4 451.6,113.8 456.0,114.4 462.2,114.8 465.4,114.1 474.8,113.8 482.2,114.4 488.5,113.5 496.6,114.4 501.0,114.4 512.2,114.1 521.6,114.1 526.0,116.0 530.4,118.8 535.4,119.8 539.8,117.6 544.8,116.6 547.2,117.6" fill="none" stroke="#a4b8ff" stroke-width="1.6" stroke-linejoin="round" stroke-linecap="round" shape-rendering="auto"/>
<polyline points="414.1,115.7 418.5,116.3 422.6,117.6" fill="none" stroke="#a4b8ff" stroke-width="1.6" stroke-linejoin="round" stroke-linecap="round" shape-rendering="auto"/>
<polyline points="426.0,114.1 429.8,116.0 433.5,118.5 436.0,119.1 439.8,117.6" fill="none" stroke="#a4b8ff" stroke-width="1.6" stroke-linejoin="round" stroke-linecap="round" shape-rendering="auto"/>
<polyline points="476.6,114.8 482.9,119.1" fill="none" stroke="#a4b8ff" stroke-width="1.6" stroke-linejoin="round" stroke-linecap="round" shape-rendering="auto"/>
<polyline points="486.0,114.8 494.8,116.3 499.8,117.2 506.0,117.2 510.4,117.2 518.5,120.7" fill="none" stroke="#a4b8ff" stroke-width="1.6" stroke-linejoin="round" stroke-linecap="round" shape-rendering="auto"/>
<polyline points="535.0,111.6 539.8,110.7 544.8,111.6 551.0,112.9 557.2,113.5 561.6,115.7 566.6,116.6 572.2,116.0 579.1,116.9" fill="none" stroke="#a4b8ff" stroke-width="1.6" stroke-linejoin="round" stroke-linecap="round" shape-rendering="auto"/>
<polyline points="547.3,126.3 557.1,126.6 562.0,127.0 567.6,125.2 573.2,125.6 580.2,126.6 587.9,124.9" fill="none" stroke="#a4b8ff" stroke-width="1.6" stroke-linejoin="round" stroke-linecap="round" shape-rendering="auto"/>
<polyline points="410.0,126.2 413.0,125.6 416.0,125.5 419.0,125.8 423.4,126.2" fill="none" stroke="#a4b8ff" stroke-width="1.6" stroke-linejoin="round" stroke-linecap="round" shape-rendering="auto"/><rect x="446" y="147" width="3" height="67" fill="#000"/>
<rect x="447" y="147" width="1" height="66" fill="#b08000"/>
<rect x="501" y="147" width="3" height="96" fill="#000"/>
<rect x="502" y="147" width="1" height="95" fill="#b08000"/>
<polygon points="503,233 506,233 506,238 508,238 508,243 503,243" fill="#000"/>
<polygon points="503,234 505,234 505,239 507,239 507,242 503,242" fill="#b08000"/>
<rect x="502" y="243" width="1" height="20" fill="#b08000"/>
<path d="M503,254.5 C509,253.5 513,250.2 517.5,250.4 L523,250.8 L519,252.8 L522.5,256 L518,255.3 C513,255.8 509,261 503,261.5 Z" fill="#ffffff" stroke="#000" stroke-width="0.8"/><path d="M503.4,258 C509,257 513,254 518,253.6 L521.5,255.7 L518,255.3 C513,255.8 509,260.6 503.4,261.1 Z" fill="#ff0000"/><path d="M503.4,258 C509,257 513,254 518,253.6 L521,253.8" fill="none" stroke="#000" stroke-width="0.8"/>
<path d="M421.9,161.4 C423.1,161.4 438.6,156.1 441.6,180.9 Z" fill="#ff0000" stroke="#000" stroke-width="0.9"/>
<path d="M441.6,180.9 C442.7,180.9 456.7,176.1 459.4,198.6 Z" fill="#ffffff" stroke="#000" stroke-width="0.9"/>
<path d="M459.4,198.6 C460.5,198.6 474.9,193.7 477.6,216.6 Z" fill="#ff0000" stroke="#000" stroke-width="0.9"/>
<path d="M421 161h1v3h-1zM422 162h1v3h-1zM423 163h1v3h-1zM424 164h1v3h-1zM425 165h1v3h-1zM426 166h1v3h-1zM427 167h1v3h-1zM428 168h1v3h-1zM429 169h1v3h-1zM430 170h1v3h-1zM431 171h1v3h-1zM432 172h1v3h-1zM433 173h1v3h-1zM434 174h1v3h-1zM435 175h1v3h-1zM436 176h1v3h-1zM437 177h1v3h-1zM438 178h1v3h-1zM439 179h1v3h-1zM440 180h1v3h-1zM441 181h1v3h-1zM442 182h1v3h-1zM443 183h1v3h-1zM444 183h1v3h-1zM445 184h1v3h-1zM446 185h1v3h-1zM447 186h1v3h-1zM448 187h1v3h-1zM449 188h1v3h-1zM450 189h1v3h-1zM451 190h1v3h-1zM452 191h1v3h-1zM453 192h1v3h-1zM454 193h1v3h-1zM455 194h1v3h-1zM456 195h1v3h-1zM457 196h1v3h-1zM458 197h1v3h-1zM459 198h1v3h-1zM460 199h1v3h-1zM461 200h1v3h-1zM462 201h1v3h-1zM463 202h1v3h-1zM464 203h1v3h-1zM465 204h1v3h-1zM466 205h1v3h-1zM467 206h1v3h-1zM468 207h1v3h-1zM469 208h1v3h-1zM470 209h1v3h-1zM471 210h1v3h-1zM472 211h1v3h-1zM473 212h1v3h-1zM474 213h1v3h-1zM475 214h1v3h-1zM476 215h1v3h-1z" fill="#000"/><path d="M421 162h1v1h-1zM422 163h1v1h-1zM423 164h1v1h-1zM424 165h1v1h-1zM425 166h1v1h-1zM426 167h1v1h-1zM427 168h1v1h-1zM428 169h1v1h-1zM429 170h1v1h-1zM430 171h1v1h-1zM431 172h1v1h-1zM432 173h1v1h-1zM433 174h1v1h-1zM434 175h1v1h-1zM435 176h1v1h-1zM436 177h1v1h-1zM437 178h1v1h-1zM438 179h1v1h-1zM439 180h1v1h-1zM440 181h1v1h-1zM441 182h1v1h-1zM442 183h1v1h-1zM443 184h1v1h-1zM444 184h1v1h-1zM445 185h1v1h-1zM446 186h1v1h-1zM447 187h1v1h-1zM448 188h1v1h-1zM449 189h1v1h-1zM450 190h1v1h-1zM451 191h1v1h-1zM452 192h1v1h-1zM453 193h1v1h-1zM454 194h1v1h-1zM455 195h1v1h-1zM456 196h1v1h-1zM457 197h1v1h-1zM458 198h1v1h-1zM459 199h1v1h-1zM460 200h1v1h-1zM461 201h1v1h-1zM462 202h1v1h-1zM463 203h1v1h-1zM464 204h1v1h-1zM465 205h1v1h-1zM466 206h1v1h-1zM467 207h1v1h-1zM468 208h1v1h-1zM469 209h1v1h-1zM470 210h1v1h-1zM471 211h1v1h-1zM472 212h1v1h-1zM473 213h1v1h-1zM474 214h1v1h-1zM475 215h1v1h-1zM476 216h1v1h-1z" fill="#a06a00"/>
<path d="M460.0,172.2 C461.1,172.2 476.0,167.1 478.8,190.8 Z" fill="#ff0000" stroke="#000" stroke-width="0.9"/>
<path d="M478.8,190.8 C479.9,190.8 494.8,185.7 497.6,209.4 Z" fill="#ffffff" stroke="#000" stroke-width="0.9"/>
<path d="M497.6,209.4 C498.6,209.4 512.3,204.7 514.9,226.5 Z" fill="#ff0000" stroke="#000" stroke-width="0.9"/>
<path d="M514.9,226.5 C516.1,226.5 531.2,221.2 534.1,245.4 Z" fill="#ffffff" stroke="#000" stroke-width="0.9"/>
<path d="M534.1,245.4 C535.3,245.4 550.8,240.1 553.8,264.9 Z" fill="#ff0000" stroke="#000" stroke-width="0.9"/>
<path d="M459 171h1v3h-1zM460 172h1v3h-1zM461 173h1v3h-1zM462 174h1v3h-1zM463 175h1v3h-1zM464 176h1v3h-1zM465 177h1v3h-1zM466 178h1v3h-1zM467 179h1v3h-1zM468 180h1v3h-1zM469 181h1v3h-1zM470 182h1v3h-1zM471 183h1v3h-1zM472 184h1v3h-1zM473 185h1v3h-1zM474 186h1v3h-1zM475 187h1v3h-1zM476 188h1v3h-1zM477 189h1v3h-1zM478 190h1v3h-1zM479 191h1v3h-1zM480 192h1v3h-1zM481 193h1v3h-1zM482 194h1v3h-1zM483 195h1v3h-1zM484 196h1v3h-1zM485 197h1v3h-1zM486 198h1v3h-1zM487 199h1v3h-1zM488 200h1v3h-1zM489 201h1v3h-1zM490 202h1v3h-1zM491 203h1v3h-1zM492 204h1v3h-1zM493 205h1v3h-1zM494 206h1v3h-1zM495 207h1v3h-1zM496 208h1v3h-1zM497 209h1v3h-1zM498 210h1v3h-1zM499 211h1v3h-1zM500 212h1v3h-1zM501 213h1v3h-1zM502 214h1v3h-1zM503 215h1v3h-1zM504 216h1v3h-1zM505 217h1v3h-1zM506 218h1v3h-1zM507 219h1v3h-1zM508 220h1v3h-1zM509 221h1v3h-1zM510 222h1v3h-1zM511 223h1v3h-1zM512 224h1v3h-1zM513 225h1v3h-1zM514 226h1v3h-1zM515 227h1v3h-1zM516 228h1v3h-1zM517 229h1v3h-1zM518 230h1v3h-1zM519 231h1v3h-1zM520 232h1v3h-1zM521 233h1v3h-1zM522 234h1v3h-1zM523 235h1v3h-1zM524 236h1v3h-1zM525 237h1v3h-1zM526 238h1v3h-1zM527 239h1v3h-1zM528 240h1v3h-1zM529 241h1v3h-1zM530 242h1v3h-1zM531 243h1v3h-1zM532 244h1v3h-1zM533 245h1v3h-1zM534 246h1v3h-1zM535 247h1v3h-1zM536 247h1v3h-1zM537 248h1v3h-1zM538 249h1v3h-1zM539 250h1v3h-1zM540 251h1v3h-1zM541 252h1v3h-1zM542 253h1v3h-1zM543 254h1v3h-1zM544 255h1v3h-1zM545 256h1v3h-1zM546 257h1v3h-1zM547 258h1v3h-1zM548 259h1v3h-1zM549 260h1v3h-1zM550 261h1v3h-1zM551 262h1v3h-1zM552 263h1v3h-1zM553 264h1v3h-1z" fill="#000"/><path d="M459 172h1v1h-1zM460 173h1v1h-1zM461 174h1v1h-1zM462 175h1v1h-1zM463 176h1v1h-1zM464 177h1v1h-1zM465 178h1v1h-1zM466 179h1v1h-1zM467 180h1v1h-1zM468 181h1v1h-1zM469 182h1v1h-1zM470 183h1v1h-1zM471 184h1v1h-1zM472 185h1v1h-1zM473 186h1v1h-1zM474 187h1v1h-1zM475 188h1v1h-1zM476 189h1v1h-1zM477 190h1v1h-1zM478 191h1v1h-1zM479 192h1v1h-1zM480 193h1v1h-1zM481 194h1v1h-1zM482 195h1v1h-1zM483 196h1v1h-1zM484 197h1v1h-1zM485 198h1v1h-1zM486 199h1v1h-1zM487 200h1v1h-1zM488 201h1v1h-1zM489 202h1v1h-1zM490 203h1v1h-1zM491 204h1v1h-1zM492 205h1v1h-1zM493 206h1v1h-1zM494 207h1v1h-1zM495 208h1v1h-1zM496 209h1v1h-1zM497 210h1v1h-1zM498 211h1v1h-1zM499 212h1v1h-1zM500 213h1v1h-1zM501 214h1v1h-1zM502 215h1v1h-1zM503 216h1v1h-1zM504 217h1v1h-1zM505 218h1v1h-1zM506 219h1v1h-1zM507 220h1v1h-1zM508 221h1v1h-1zM509 222h1v1h-1zM510 223h1v1h-1zM511 224h1v1h-1zM512 225h1v1h-1zM513 226h1v1h-1zM514 227h1v1h-1zM515 228h1v1h-1zM516 229h1v1h-1zM517 230h1v1h-1zM518 231h1v1h-1zM519 232h1v1h-1zM520 233h1v1h-1zM521 234h1v1h-1zM522 235h1v1h-1zM523 236h1v1h-1zM524 237h1v1h-1zM525 238h1v1h-1zM526 239h1v1h-1zM527 240h1v1h-1zM528 241h1v1h-1zM529 242h1v1h-1zM530 243h1v1h-1zM531 244h1v1h-1zM532 245h1v1h-1zM533 246h1v1h-1zM534 247h1v1h-1zM535 248h1v1h-1zM536 248h1v1h-1zM537 249h1v1h-1zM538 250h1v1h-1zM539 251h1v1h-1zM540 252h1v1h-1zM541 253h1v1h-1zM542 254h1v1h-1zM543 255h1v1h-1zM544 256h1v1h-1zM545 257h1v1h-1zM546 258h1v1h-1zM547 259h1v1h-1zM548 260h1v1h-1zM549 261h1v1h-1zM550 262h1v1h-1zM551 263h1v1h-1zM552 264h1v1h-1zM553 265h1v1h-1z" fill="#a06a00"/>
<polygon points="421,137 427,130 578,130 584,140 421,140" fill="#000"/>
<polygon points="423,136 428,131 577,131 582,139 423,136" fill="#584a10"/>
<rect x="417" y="135" width="6" height="1" fill="#000"/>
<rect x="413" y="136" width="16" height="5" fill="#000"/>
<rect x="407" y="137" width="7" height="5" fill="#000"/>
<rect x="406" y="138" width="1" height="3" fill="#000"/>
<rect x="413" y="137" width="15" height="1" fill="#c04c10"/>
<rect x="413" y="139" width="14" height="1" fill="#c04c10"/>
<rect x="427" y="139" width="1" height="3" fill="#c04c10"/>
<rect x="407" y="138" width="6" height="1" fill="#c04c10"/>
<rect x="407" y="140" width="6" height="1" fill="#c04c10"/>
<rect x="428" y="136" width="152" height="12" fill="#000"/>
<path d="M428,137 L577,137 Q581,138 584,143 L582,144 Q579,140 576,139 L428,139 Z" fill="#c04c10"/>
<rect x="429" y="140" width="3" height="2" fill="#fff"/>
<rect x="434" y="140" width="3" height="2" fill="#fff"/>
<rect x="439" y="140" width="3" height="2" fill="#fff"/>
<rect x="444" y="140" width="3" height="2" fill="#fff"/>
<rect x="449" y="140" width="3" height="2" fill="#fff"/>
<rect x="454" y="140" width="3" height="2" fill="#fff"/>
<rect x="459" y="140" width="3" height="2" fill="#fff"/>
<rect x="464" y="140" width="3" height="2" fill="#fff"/>
<rect x="469" y="140" width="3" height="2" fill="#fff"/>
<rect x="474" y="140" width="3" height="2" fill="#fff"/>
<rect x="479" y="140" width="3" height="2" fill="#fff"/>
<rect x="484" y="140" width="3" height="2" fill="#fff"/>
<rect x="489" y="140" width="3" height="2" fill="#fff"/>
<rect x="494" y="140" width="3" height="2" fill="#fff"/>
<rect x="499" y="140" width="3" height="2" fill="#fff"/>
<rect x="504" y="140" width="3" height="2" fill="#fff"/>
<rect x="509" y="140" width="3" height="2" fill="#fff"/>
<rect x="514" y="140" width="3" height="2" fill="#fff"/>
<rect x="519" y="140" width="3" height="2" fill="#fff"/>
<rect x="524" y="140" width="3" height="2" fill="#fff"/>
<rect x="529" y="140" width="3" height="2" fill="#fff"/>
<rect x="534" y="140" width="3" height="2" fill="#fff"/>
<rect x="539" y="140" width="3" height="2" fill="#fff"/>
<rect x="544" y="140" width="3" height="2" fill="#fff"/>
<rect x="549" y="140" width="3" height="2" fill="#fff"/>
<rect x="424" y="143" width="133" height="4" fill="#b08800"/>
<rect x="418" y="143" width="7" height="5" fill="#000"/>
<rect x="419" y="144" width="1" height="3" fill="#c8c800"/>
<rect x="419" y="146" width="5" height="1" fill="#c8c800"/>
<rect x="420.5" y="144" width="3.5" height="1" fill="#c8c800"/>
<rect x="424" y="147" width="20" height="8" fill="#000"/>
<rect x="425" y="148" width="18" height="2" fill="#b08800"/>
<rect x="425" y="150" width="18" height="1.2" fill="#fff"/>
<rect x="425" y="151.2" width="18" height="1.5" fill="#ff0000"/>
<rect x="425" y="152.7" width="18" height="1.3" fill="#fff"/>
<rect x="422" y="156" width="9.5" height="1.6" fill="#c8c800"/>
<rect x="434" y="156" width="9.5" height="1.6" fill="#c8c800"/>
<polygon points="450.2,123 452.09999999999997,123 447.0,147 445.1,147" fill="#ff0000"/>
<polygon points="455.2,123 457.09999999999997,123 452.0,147 450.1,147" fill="#ff0000"/>
<polygon points="460.2,123 462.09999999999997,123 457.0,147 455.1,147" fill="#ff0000"/>
<polygon points="465.2,123 467.09999999999997,123 462.0,147 460.1,147" fill="#ff0000"/>
<polygon points="470.2,123 472.09999999999997,123 467.0,147 465.1,147" fill="#ff0000"/>
<polygon points="475.2,123 477.09999999999997,123 472.0,147 470.1,147" fill="#ff0000"/>
<polygon points="480.2,123 482.09999999999997,123 477.0,147 475.1,147" fill="#ff0000"/>
<polygon points="485.2,123 487.09999999999997,123 482.0,147 480.1,147" fill="#ff0000"/>
<polygon points="490.2,123 492.09999999999997,123 487.0,147 485.1,147" fill="#ff0000"/>
<polygon points="495.2,123 497.09999999999997,123 492.0,147 490.1,147" fill="#ff0000"/>
<polygon points="500.2,123 502.09999999999997,123 497.0,147 495.1,147" fill="#ff0000"/>
<polygon points="505.2,123 507.09999999999997,123 502.0,147 500.1,147" fill="#ff0000"/>
<polygon points="510.2,123 512.1,123 507.0,147 505.1,147" fill="#ff0000"/>
<polygon points="515.2,123 517.1,123 512.0,147 510.1,147" fill="#ff0000"/>
<polygon points="520.2,123 522.1,123 517.0,147 515.1,147" fill="#ff0000"/>
<polygon points="525.2,123 527.1,123 522.0,147 520.1,147" fill="#ff0000"/>
<polygon points="530.2,123 532.1,123 527.0,147 525.1,147" fill="#ff0000"/>
<polygon points="535.2,123 537.1,123 532.0,147 530.1,147" fill="#ff0000"/>
<polygon points="540.2,123 542.1,123 537.0,147 535.1,147" fill="#ff0000"/>
<polygon points="545.2,123 547.1,123 542.0,147 540.1,147" fill="#ff0000"/>
<polygon points="574,130.5 588,130.5 590.5,140 591.5,152 591.5,170 583.5,170 583.5,152 582,143 574,131.5" fill="#000"/>
<polygon points="576.8,131 580,131 583.2,140 585.4,150 585.4,174 584.3,174 584.2,152 581.2,140.8" fill="#fff"/>
<polygon points="582.4,134 583.4,134 585.6,140 587,148 587.2,160 586.2,160 586,148 584.6,141" fill="#fff"/>
<polygon points="581.6,131 586.2,131 588.6,140 590.2,150 590.4,168 588.8,168 588.4,150 586.4,141" fill="#b85010"/>
<polygon points="560,139 570,139.5 585,143.5 585,152 560,147.5" fill="#000"/>
<polygon points="561,140 569,141.6 569,147.9 561,146.3" fill="#ff0000"/>
<rect x="564.5" y="141.2" width="1" height="4.3" fill="#fff"/>
<rect x="563.5" y="142.3" width="3" height="1" fill="#fff"/>
<polygon points="570,141.3 577,142.7 577,149.0 570,147.60000000000002" fill="#ff0000"/>
<rect x="573.0" y="142.5" width="1" height="4.3" fill="#fff"/>
<rect x="572.0" y="143.60000000000002" width="3" height="1" fill="#fff"/>
<polygon points="578,143.6 583.6,144.7 583.6,151.0 578,149.9" fill="#ff0000"/>
<rect x="580.3" y="144.79999999999998" width="1" height="4.3" fill="#fff"/>
<rect x="579.3" y="145.9" width="3" height="1" fill="#fff"/>
<polygon points="556,144.5 592,156 592,159.5 556,148" fill="#000"/>
<polygon points="557,145.5 591,156.5 591,158.3 557,147" fill="#ff0000"/>
<rect x="565" y="150.5" width="1" height="8.5" fill="#000"/>
<rect x="576" y="153" width="1" height="6" fill="#000"/>
<path d="M558,170 L558,162 Q566,157 575,158.5 Q582,159.5 583,164 L583,170 Z" fill="#ff0000" stroke="#000" stroke-width="0.8"/>
<rect x="569.7" y="161.5" width="2.2" height="7.5" fill="#fff"/>
<rect x="567" y="164.2" width="7.6" height="2.2" fill="#fff"/>
<rect x="564.0" y="161" width="1.1" height="4" fill="#fff"/>
<rect x="563.0" y="162.5" width="3.1" height="1.1" fill="#fff"/>
<rect x="576.7" y="161" width="1.1" height="4" fill="#fff"/>
<rect x="575.7" y="162.5" width="3.1" height="1.1" fill="#fff"/>
<rect x="585.5" y="165.5" width="3" height="6.5" fill="#000"/>
<rect x="586.2" y="166.5" width="1.6" height="4.5" fill="#ffe800"/>
<rect x="584.5" y="172" width="1" height="3.5" fill="#000"/>
<polygon points="581.5,175 588,175 588,182 585.5,186 584,186 581.5,182" fill="#000"/>
<rect x="582.6" y="176" width="4.3" height="5.6" fill="#ffe800"/>
<rect x="557" y="148" width="1" height="46" fill="#b08000"/>
<path d="M558,185.5 C564,184.5 568,181.2 572.5,181.4 L578,181.8 L574,183.8 L577.5,187 L573,186.3 C568,186.8 564,192 558,192.5 Z" fill="#ffffff" stroke="#000" stroke-width="0.8"/><path d="M558.4,189 C564,188 568,185 573,184.6 L576.5,186.7 L573,186.3 C568,186.8 564,191.6 558.4,192.1 Z" fill="#ff0000"/><path d="M558.4,189 C564,188 568,185 573,184.6 L576,184.8" fill="none" stroke="#000" stroke-width="0.8"/></g>
<g id="p3"><rect x="605" y="70" width="191" height="55" fill="#0000ff"/>
<rect x="605" y="117" width="191" height="1" fill="#000"/>
<rect x="605" y="125" width="191" height="1" fill="#000"/>
<polyline points="616.0,100.7 620.4,99.4 626.6,97.6 631.0,97.2 636.0,96.3 641.0,95.7 646.0,96.3 651.0,97.9 656.0,98.8 659.8,99.8 664.1,101.3 669.1,101.0 673.5,99.1 678.5,97.2 686.0,96.3 692.2,97.2 698.5,99.8 704.8,102.2 709.1,103.2" fill="none" stroke="#a4b8ff" stroke-width="1.6" stroke-linejoin="round" stroke-linecap="round" shape-rendering="auto"/>
<polyline points="627.2,97.9 632.9,98.5 637.9,99.8 642.2,101.6 644.1,103.5" fill="none" stroke="#a4b8ff" stroke-width="1.6" stroke-linejoin="round" stroke-linecap="round" shape-rendering="auto"/>
<polyline points="615.7,103.5 618.5,105.4 625.4,105.7" fill="none" stroke="#a4b8ff" stroke-width="1.6" stroke-linejoin="round" stroke-linecap="round" shape-rendering="auto"/>
<polyline points="628.2,105.7 636.0,105.0 643.5,106.0" fill="none" stroke="#a4b8ff" stroke-width="1.6" stroke-linejoin="round" stroke-linecap="round" shape-rendering="auto"/>
<polyline points="646.6,102.2 651.6,101.0 656.0,101.3 664.1,101.6 667.0,102.2 671.6,103.2 677.9,103.8 686.6,102.6" fill="none" stroke="#a4b8ff" stroke-width="1.6" stroke-linejoin="round" stroke-linecap="round" shape-rendering="auto"/>
<polyline points="643.5,109.4 651.6,108.8 656.0,109.4 662.2,109.8 665.4,109.1 674.8,108.8 682.2,109.4 688.5,108.5 696.6,109.4 701.0,109.4 712.2,109.1 721.6,109.1 726.0,111.0 730.4,113.8 735.4,114.8 739.8,112.6 744.8,111.6 747.2,112.6" fill="none" stroke="#a4b8ff" stroke-width="1.6" stroke-linejoin="round" stroke-linecap="round" shape-rendering="auto"/>
<polyline points="614.1,110.7 618.5,111.3 622.6,112.6" fill="none" stroke="#a4b8ff" stroke-width="1.6" stroke-linejoin="round" stroke-linecap="round" shape-rendering="auto"/>
<polyline points="626.0,109.1 629.8,111.0 633.5,113.5 636.0,114.1 639.8,112.6" fill="none" stroke="#a4b8ff" stroke-width="1.6" stroke-linejoin="round" stroke-linecap="round" shape-rendering="auto"/>
<polyline points="676.6,109.8 682.9,114.1" fill="none" stroke="#a4b8ff" stroke-width="1.6" stroke-linejoin="round" stroke-linecap="round" shape-rendering="auto"/>
<polyline points="686.0,109.8 694.8,111.3 699.8,112.2 706.0,112.2 710.4,112.2 718.5,115.7" fill="none" stroke="#a4b8ff" stroke-width="1.6" stroke-linejoin="round" stroke-linecap="round" shape-rendering="auto"/>
<polyline points="735.0,106.6 739.8,105.7 744.8,106.6 751.0,107.9 757.2,108.5 761.6,110.7 766.6,111.6 772.2,111.0 779.1,111.9" fill="none" stroke="#a4b8ff" stroke-width="1.6" stroke-linejoin="round" stroke-linecap="round" shape-rendering="auto"/>
<polyline points="747.3,121.3 757.1,121.6 762.0,122.0 767.6,120.2 773.2,120.6 780.2,121.6 787.9,119.9" fill="none" stroke="#a4b8ff" stroke-width="1.6" stroke-linejoin="round" stroke-linecap="round" shape-rendering="auto"/>
<polyline points="610.0,121.2 613.0,120.6 616.0,120.5 619.0,120.8 623.4,121.2" fill="none" stroke="#a4b8ff" stroke-width="1.6" stroke-linejoin="round" stroke-linecap="round" shape-rendering="auto"/><rect x="639" y="149" width="3" height="75" fill="#000"/>
<rect x="640" y="149" width="1" height="74" fill="#a87000"/>
<rect x="701" y="149" width="3" height="96" fill="#000"/>
<rect x="702" y="149" width="1" height="95" fill="#a87000"/>
<polygon points="703,235 706,235 706,240 708,240 708,245 703,245" fill="#000"/>
<polygon points="703,236 705,236 705,241 707,241 707,244 703,244" fill="#a87000"/>
<rect x="702" y="245" width="1" height="12" fill="#a87000"/>
<path d="M703,249.5 C709,248.5 713,245.2 717.5,245.4 L723,245.8 L719,247.8 L722.5,251 L718,250.3 C713,250.8 709,256 703,256.5 Z" fill="#ffe800" stroke="#000" stroke-width="0.8"/>
<rect x="741" y="149" width="3" height="69" fill="#000"/>
<rect x="742" y="149" width="1" height="68" fill="#a87000"/>
<rect x="742" y="218" width="1" height="13" fill="#a87000"/>
<path d="M743,223.5 C749,222.5 753,219.2 757.5,219.4 L763,219.8 L759,221.8 L762.5,225 L758,224.3 C753,224.8 749,230 743,230.5 Z" fill="#ffe800" stroke="#000" stroke-width="0.8"/>
<path d="M615.0,170.5 C616.2,170.5 632.0,164.8 635.0,190.0 Z" fill="#ffffff" stroke="#000" stroke-width="0.9"/>
<path d="M635.0,190.0 C636.1,190.0 650.1,184.9 652.8,207.3 Z" fill="#ffffff" stroke="#000" stroke-width="0.9"/>
<path d="M652.8,207.3 C653.9,207.3 668.3,202.1 671.0,225.0 Z" fill="#ffffff" stroke="#000" stroke-width="0.9"/>
<path d="M614 170h1v3h-1zM615 171h1v3h-1zM616 172h1v3h-1zM617 173h1v3h-1zM618 174h1v3h-1zM619 175h1v3h-1zM620 176h1v3h-1zM621 177h1v3h-1zM622 177h1v3h-1zM623 178h1v3h-1zM624 179h1v3h-1zM625 180h1v3h-1zM626 181h1v3h-1zM627 182h1v3h-1zM628 183h1v3h-1zM629 184h1v3h-1zM630 185h1v3h-1zM631 186h1v3h-1zM632 187h1v3h-1zM633 188h1v3h-1zM634 189h1v3h-1zM635 190h1v3h-1zM636 191h1v3h-1zM637 192h1v3h-1zM638 193h1v3h-1zM639 194h1v3h-1zM640 195h1v3h-1zM641 196h1v3h-1zM642 197h1v3h-1zM643 198h1v3h-1zM644 199h1v3h-1zM645 200h1v3h-1zM646 201h1v3h-1zM647 202h1v3h-1zM648 203h1v3h-1zM649 204h1v3h-1zM650 205h1v3h-1zM651 206h1v3h-1zM652 207h1v3h-1zM653 208h1v3h-1zM654 209h1v3h-1zM655 210h1v3h-1zM656 211h1v3h-1zM657 212h1v3h-1zM658 213h1v3h-1zM659 213h1v3h-1zM660 214h1v3h-1zM661 215h1v3h-1zM662 216h1v3h-1zM663 217h1v3h-1zM664 218h1v3h-1zM665 219h1v3h-1zM666 220h1v3h-1zM667 221h1v3h-1zM668 222h1v3h-1zM669 223h1v3h-1zM670 224h1v3h-1z" fill="#000"/><path d="M614 171h1v1h-1zM615 172h1v1h-1zM616 173h1v1h-1zM617 174h1v1h-1zM618 175h1v1h-1zM619 176h1v1h-1zM620 177h1v1h-1zM621 178h1v1h-1zM622 178h1v1h-1zM623 179h1v1h-1zM624 180h1v1h-1zM625 181h1v1h-1zM626 182h1v1h-1zM627 183h1v1h-1zM628 184h1v1h-1zM629 185h1v1h-1zM630 186h1v1h-1zM631 187h1v1h-1zM632 188h1v1h-1zM633 189h1v1h-1zM634 190h1v1h-1zM635 191h1v1h-1zM636 192h1v1h-1zM637 193h1v1h-1zM638 194h1v1h-1zM639 195h1v1h-1zM640 196h1v1h-1zM641 197h1v1h-1zM642 198h1v1h-1zM643 199h1v1h-1zM644 200h1v1h-1zM645 201h1v1h-1zM646 202h1v1h-1zM647 203h1v1h-1zM648 204h1v1h-1zM649 205h1v1h-1zM650 206h1v1h-1zM651 207h1v1h-1zM652 208h1v1h-1zM653 209h1v1h-1zM654 210h1v1h-1zM655 211h1v1h-1zM656 212h1v1h-1zM657 213h1v1h-1zM658 214h1v1h-1zM659 214h1v1h-1zM660 215h1v1h-1zM661 216h1v1h-1zM662 217h1v1h-1zM663 218h1v1h-1zM664 219h1v1h-1zM665 220h1v1h-1zM666 221h1v1h-1zM667 222h1v1h-1zM668 223h1v1h-1zM669 224h1v1h-1zM670 225h1v1h-1z" fill="#a06a00"/>
<path d="M660.0,174.2 C661.1,174.2 675.7,169.2 678.5,192.5 Z" fill="#ffffff" stroke="#000" stroke-width="0.9"/>
<path d="M678.5,192.5 C679.6,192.5 694.2,187.4 697.0,210.8 Z" fill="#ffffff" stroke="#000" stroke-width="0.9"/>
<path d="M697.0,210.8 C698.0,210.8 711.8,206.0 714.4,227.9 Z" fill="#ffffff" stroke="#000" stroke-width="0.9"/>
<path d="M714.4,227.9 C715.5,227.9 730.1,222.9 732.9,246.2 Z" fill="#ffffff" stroke="#000" stroke-width="0.9"/>
<path d="M732.9,246.2 C734.0,246.2 748.5,241.2 751.2,264.3 Z" fill="#ffffff" stroke="#000" stroke-width="0.9"/>
<path d="M659 173h1v3h-1zM660 174h1v3h-1zM661 175h1v3h-1zM662 176h1v3h-1zM663 177h1v3h-1zM664 178h1v3h-1zM665 179h1v3h-1zM666 180h1v3h-1zM667 181h1v3h-1zM668 182h1v3h-1zM669 183h1v3h-1zM670 184h1v3h-1zM671 185h1v3h-1zM672 186h1v3h-1zM673 187h1v3h-1zM674 188h1v3h-1zM675 189h1v3h-1zM676 190h1v3h-1zM677 191h1v3h-1zM678 192h1v3h-1zM679 193h1v3h-1zM680 194h1v3h-1zM681 195h1v3h-1zM682 196h1v3h-1zM683 197h1v3h-1zM684 198h1v3h-1zM685 199h1v3h-1zM686 200h1v3h-1zM687 201h1v3h-1zM688 202h1v3h-1zM689 203h1v3h-1zM690 204h1v3h-1zM691 205h1v3h-1zM692 206h1v3h-1zM693 207h1v3h-1zM694 208h1v3h-1zM695 209h1v3h-1zM696 210h1v3h-1zM697 211h1v3h-1zM698 212h1v3h-1zM699 213h1v3h-1zM700 214h1v3h-1zM701 215h1v3h-1zM702 216h1v3h-1zM703 217h1v3h-1zM704 218h1v3h-1zM705 219h1v3h-1zM706 220h1v3h-1zM707 221h1v3h-1zM708 222h1v3h-1zM709 223h1v3h-1zM710 224h1v3h-1zM711 225h1v3h-1zM712 226h1v3h-1zM713 227h1v3h-1zM714 228h1v3h-1zM715 229h1v3h-1zM716 230h1v3h-1zM717 231h1v3h-1zM718 232h1v3h-1zM719 233h1v3h-1zM720 234h1v3h-1zM721 235h1v3h-1zM722 236h1v3h-1zM723 237h1v3h-1zM724 238h1v3h-1zM725 239h1v3h-1zM726 240h1v3h-1zM727 241h1v3h-1zM728 242h1v3h-1zM729 243h1v3h-1zM730 244h1v3h-1zM731 245h1v3h-1zM732 246h1v3h-1zM733 247h1v3h-1zM734 247h1v3h-1zM735 248h1v3h-1zM736 249h1v3h-1zM737 250h1v3h-1zM738 251h1v3h-1zM739 252h1v3h-1zM740 253h1v3h-1zM741 254h1v3h-1zM742 255h1v3h-1zM743 256h1v3h-1zM744 257h1v3h-1zM745 258h1v3h-1zM746 259h1v3h-1zM747 260h1v3h-1zM748 261h1v3h-1zM749 262h1v3h-1zM750 263h1v3h-1z" fill="#000"/><path d="M659 174h1v1h-1zM660 175h1v1h-1zM661 176h1v1h-1zM662 177h1v1h-1zM663 178h1v1h-1zM664 179h1v1h-1zM665 180h1v1h-1zM666 181h1v1h-1zM667 182h1v1h-1zM668 183h1v1h-1zM669 184h1v1h-1zM670 185h1v1h-1zM671 186h1v1h-1zM672 187h1v1h-1zM673 188h1v1h-1zM674 189h1v1h-1zM675 190h1v1h-1zM676 191h1v1h-1zM677 192h1v1h-1zM678 193h1v1h-1zM679 194h1v1h-1zM680 195h1v1h-1zM681 196h1v1h-1zM682 197h1v1h-1zM683 198h1v1h-1zM684 199h1v1h-1zM685 200h1v1h-1zM686 201h1v1h-1zM687 202h1v1h-1zM688 203h1v1h-1zM689 204h1v1h-1zM690 205h1v1h-1zM691 206h1v1h-1zM692 207h1v1h-1zM693 208h1v1h-1zM694 209h1v1h-1zM695 210h1v1h-1zM696 211h1v1h-1zM697 212h1v1h-1zM698 213h1v1h-1zM699 214h1v1h-1zM700 215h1v1h-1zM701 216h1v1h-1zM702 217h1v1h-1zM703 218h1v1h-1zM704 219h1v1h-1zM705 220h1v1h-1zM706 221h1v1h-1zM707 222h1v1h-1zM708 223h1v1h-1zM709 224h1v1h-1zM710 225h1v1h-1zM711 226h1v1h-1zM712 227h1v1h-1zM713 228h1v1h-1zM714 229h1v1h-1zM715 230h1v1h-1zM716 231h1v1h-1zM717 232h1v1h-1zM718 233h1v1h-1zM719 234h1v1h-1zM720 235h1v1h-1zM721 236h1v1h-1zM722 237h1v1h-1zM723 238h1v1h-1zM724 239h1v1h-1zM725 240h1v1h-1zM726 241h1v1h-1zM727 242h1v1h-1zM728 243h1v1h-1zM729 244h1v1h-1zM730 245h1v1h-1zM731 246h1v1h-1zM732 247h1v1h-1zM733 248h1v1h-1zM734 248h1v1h-1zM735 249h1v1h-1zM736 250h1v1h-1zM737 251h1v1h-1zM738 252h1v1h-1zM739 253h1v1h-1zM740 254h1v1h-1zM741 255h1v1h-1zM742 256h1v1h-1zM743 257h1v1h-1zM744 258h1v1h-1zM745 259h1v1h-1zM746 260h1v1h-1zM747 261h1v1h-1zM748 262h1v1h-1zM749 263h1v1h-1zM750 264h1v1h-1z" fill="#a06a00"/>
<path d="M716.8,164.9 C718.0,164.9 733.8,159.5 736.8,184.7 Z" fill="#ffffff" stroke="#000" stroke-width="0.9"/>
<path d="M736.8,184.7 C737.8,184.7 751.6,180.0 754.2,201.9 Z" fill="#ffffff" stroke="#000" stroke-width="0.9"/>
<path d="M754.2,201.9 C755.3,201.9 769.8,196.9 772.6,220.1 Z" fill="#ffffff" stroke="#000" stroke-width="0.9"/>
<path d="M716 164h1v3h-1zM717 165h1v3h-1zM718 166h1v3h-1zM719 167h1v3h-1zM720 168h1v3h-1zM721 169h1v3h-1zM722 170h1v3h-1zM723 171h1v3h-1zM724 172h1v3h-1zM725 173h1v3h-1zM726 174h1v3h-1zM727 175h1v3h-1zM728 176h1v3h-1zM729 177h1v3h-1zM730 178h1v3h-1zM731 179h1v3h-1zM732 180h1v3h-1zM733 181h1v3h-1zM734 182h1v3h-1zM735 183h1v3h-1zM736 184h1v3h-1zM737 185h1v3h-1zM738 186h1v3h-1zM739 187h1v3h-1zM740 188h1v3h-1zM741 189h1v3h-1zM742 190h1v3h-1zM743 191h1v3h-1zM744 192h1v3h-1zM745 193h1v3h-1zM746 194h1v3h-1zM747 195h1v3h-1zM748 196h1v3h-1zM749 197h1v3h-1zM750 198h1v3h-1zM751 199h1v3h-1zM752 200h1v3h-1zM753 201h1v3h-1zM754 202h1v3h-1zM755 203h1v3h-1zM756 204h1v3h-1zM757 205h1v3h-1zM758 206h1v3h-1zM759 207h1v3h-1zM760 208h1v3h-1zM761 209h1v3h-1zM762 210h1v3h-1zM763 211h1v3h-1zM764 212h1v3h-1zM765 213h1v3h-1zM766 214h1v3h-1zM767 215h1v3h-1zM768 216h1v3h-1zM769 217h1v3h-1zM770 218h1v3h-1zM771 219h1v3h-1zM772 220h1v3h-1z" fill="#000"/><path d="M716 165h1v1h-1zM717 166h1v1h-1zM718 167h1v1h-1zM719 168h1v1h-1zM720 169h1v1h-1zM721 170h1v1h-1zM722 171h1v1h-1zM723 172h1v1h-1zM724 173h1v1h-1zM725 174h1v1h-1zM726 175h1v1h-1zM727 176h1v1h-1zM728 177h1v1h-1zM729 178h1v1h-1zM730 179h1v1h-1zM731 180h1v1h-1zM732 181h1v1h-1zM733 182h1v1h-1zM734 183h1v1h-1zM735 184h1v1h-1zM736 185h1v1h-1zM737 186h1v1h-1zM738 187h1v1h-1zM739 188h1v1h-1zM740 189h1v1h-1zM741 190h1v1h-1zM742 191h1v1h-1zM743 192h1v1h-1zM744 193h1v1h-1zM745 194h1v1h-1zM746 195h1v1h-1zM747 196h1v1h-1zM748 197h1v1h-1zM749 198h1v1h-1zM750 199h1v1h-1zM751 200h1v1h-1zM752 201h1v1h-1zM753 202h1v1h-1zM754 203h1v1h-1zM755 204h1v1h-1zM756 205h1v1h-1zM757 206h1v1h-1zM758 207h1v1h-1zM759 208h1v1h-1zM760 209h1v1h-1zM761 210h1v1h-1zM762 211h1v1h-1zM763 212h1v1h-1zM764 213h1v1h-1zM765 214h1v1h-1zM766 215h1v1h-1zM767 216h1v1h-1zM768 217h1v1h-1zM769 218h1v1h-1zM770 219h1v1h-1zM771 220h1v1h-1zM772 221h1v1h-1z" fill="#a06a00"/>
<path d="M616,137.5 L623,132 L630,125 L775,125 Q789,131 793,150 L794,163 L790,163 L740,153 L740,150 L629,150 L629,143 L616,143 Z" fill="#000"/>
<path d="M618,137 L624.5,132 L631,126 L774.5,126 Q786,131 790,148 L790.5,157 L746,149 L629,149 L629,141 L618,141 Z" fill="#b88800"/>
<polygon points="774,125 791.5,125 792.5,140 792.5,163 786.5,163 786.5,150 785,143 781.5,136 774,126.5" fill="#000"/>
<polygon points="775,125.8 780,125.8 786,136 788.4,145.3 788.8,158 787.3,158 787.2,150 786,145.3 782.3,136.5 775,126.8" fill="#fff"/>
<polygon points="781,125.8 790.2,125.8 790.7,136 791.4,150 791.6,160 789.8,160 789.6,150 789,145 787,136" fill="#b88800"/>
<path d="M627,130.6 L772,130.6 Q778,131.5 781.5,135.5 L780.5,136.2 Q777,133 772,132 L627,132 Z" fill="#ffe800"/>
<path d="M629,138 L768,138 Q779,139 785.5,146 L784.5,146.8 Q778,140.5 768,139.5 L629,139.5 Z" fill="#ffe800"/>
<polygon points="760,140.6 770,140.6 787,145.6 787.5,154 760,149.6" fill="#000"/>
<polygon points="762,141.6 771.5,143.5 771.5,150.5 762,149.0" fill="#ffe800"/>
<polygon points="773,143.8 779.2,145.0 779.2,151.8 773,150.8" fill="#ffe800"/>
<polygon points="780.5,145.3 786.2,146.4 786.2,152.9 780.5,152.0" fill="#ffe800"/>
<rect x="629" y="141" width="131" height="1" fill="#000"/>
<rect x="629" y="144" width="131" height="1" fill="#000"/>
<rect x="629" y="148.6" width="118" height="0.9" fill="#000"/>
<rect x="629" y="142" width="3.4" height="2" fill="#ffe800"/>
<rect x="634" y="142" width="3.4" height="2" fill="#ffe800"/>
<rect x="639" y="142" width="3.4" height="2" fill="#ffe800"/>
<rect x="644" y="142" width="3.4" height="2" fill="#ffe800"/>
<rect x="649" y="142" width="3.4" height="2" fill="#ffe800"/>
<rect x="654" y="142" width="3.4" height="2" fill="#ffe800"/>
<rect x="659" y="142" width="3.4" height="2" fill="#ffe800"/>
<rect x="664" y="142" width="3.4" height="2" fill="#ffe800"/>
<rect x="669" y="142" width="3.4" height="2" fill="#ffe800"/>
<rect x="674" y="142" width="3.4" height="2" fill="#ffe800"/>
<rect x="679" y="142" width="3.4" height="2" fill="#ffe800"/>
<rect x="684" y="142" width="3.4" height="2" fill="#ffe800"/>
<rect x="689" y="142" width="3.4" height="2" fill="#ffe800"/>
<rect x="694" y="142" width="3.4" height="2" fill="#ffe800"/>
<rect x="699" y="142" width="3.4" height="2" fill="#ffe800"/>
<rect x="704" y="142" width="3.4" height="2" fill="#ffe800"/>
<rect x="709" y="142" width="3.4" height="2" fill="#ffe800"/>
<rect x="714" y="142" width="3.4" height="2" fill="#ffe800"/>
<rect x="719" y="142" width="3.4" height="2" fill="#ffe800"/>
<rect x="724" y="142" width="3.4" height="2" fill="#ffe800"/>
<rect x="729" y="142" width="3.4" height="2" fill="#ffe800"/>
<rect x="734" y="142" width="3.4" height="2" fill="#ffe800"/>
<rect x="739" y="142" width="3.4" height="2" fill="#ffe800"/>
<rect x="744" y="142" width="3.4" height="2" fill="#ffe800"/>
<rect x="749" y="142" width="3.4" height="2" fill="#ffe800"/>
<rect x="754" y="142" width="3.4" height="2" fill="#ffe800"/>
<polygon points="650.7,118 653.2,118 648.7,148 646.2,148" fill="#000"/>
<polygon points="655.7,118 658.2,118 653.7,148 651.2,148" fill="#000"/>
<polygon points="660.7,118 663.2,118 658.7,148 656.2,148" fill="#000"/>
<polygon points="665.7,118 668.2,118 663.7,148 661.2,148" fill="#000"/>
<polygon points="670.7,118 673.2,118 668.7,148 666.2,148" fill="#000"/>
<polygon points="675.7,118 678.2,118 673.7,148 671.2,148" fill="#000"/>
<polygon points="680.7,118 683.2,118 678.7,148 676.2,148" fill="#000"/>
<polygon points="685.7,118 688.2,118 683.7,148 681.2,148" fill="#000"/>
<polygon points="690.7,118 693.2,118 688.7,148 686.2,148" fill="#000"/>
<polygon points="695.7,118 698.2,118 693.7,148 691.2,148" fill="#000"/>
<polygon points="700.7,118 703.2,118 698.7,148 696.2,148" fill="#000"/>
<polygon points="705.7,118 708.2,118 703.7,148 701.2,148" fill="#000"/>
<polygon points="710.7,118 713.2,118 708.7,148 706.2,148" fill="#000"/>
<polygon points="715.7,118 718.2,118 713.7,148 711.2,148" fill="#000"/>
<polygon points="720.7,118 723.2,118 718.7,148 716.2,148" fill="#000"/>
<polygon points="725.7,118 728.2,118 723.7,148 721.2,148" fill="#000"/>
<polygon points="730.7,118 733.2,118 728.7,148 726.2,148" fill="#000"/>
<polygon points="735.7,118 738.2,118 733.7,148 731.2,148" fill="#000"/>
<polygon points="740.7,118 743.2,118 738.7,148 736.2,148" fill="#000"/>
<polygon points="745.7,118 748.2,118 743.7,148 741.2,148" fill="#000"/>
<polygon points="750.7,118 753.2,118 748.7,148 746.2,148" fill="#000"/>
<polygon points="755.7,118 758.2,118 753.7,148 751.2,148" fill="#000"/>
<rect x="614" y="136" width="15" height="7" fill="#000"/>
<rect x="607" y="138" width="8" height="5" fill="#000"/>
<rect x="606" y="139" width="1" height="3" fill="#000"/>
<rect x="617" y="137" width="11" height="1" fill="#c8c800"/>
<rect x="607" y="139" width="21" height="1" fill="#c8c800"/>
<rect x="607" y="141" width="21" height="1" fill="#c8c800"/>
<rect x="624" y="136" width="4" height="2" fill="#ffe800"/>
<polygon points="618.5,142 629,142 629,144.6 644,144.6 644,156.5 618.5,156.5" fill="#000"/>
<rect x="619.5" y="143" width="9" height="2.5" fill="#b88800"/>
<rect x="629" y="145.5" width="14" height="1.2" fill="#b88800"/>
<rect x="619.5" y="147.2" width="23.5" height="5.6" fill="#b88800"/>
<rect x="619.5" y="153.7" width="23.5" height="2" fill="#b88800"/>
<rect x="623" y="148" width="4" height="4" fill="#000"/>
<rect x="624" y="148" width="2" height="1" fill="#ffe800"/>
<rect x="624" y="151" width="2" height="1" fill="#ffe800"/>
<rect x="623" y="149" width="1" height="2" fill="#ffe800"/>
<rect x="626" y="149" width="1" height="2" fill="#ffe800"/>
<rect x="632" y="148" width="4" height="4" fill="#000"/>
<rect x="633" y="148" width="2" height="1" fill="#ffe800"/>
<rect x="633" y="151" width="2" height="1" fill="#ffe800"/>
<rect x="632" y="149" width="1" height="2" fill="#ffe800"/>
<rect x="635" y="149" width="1" height="2" fill="#ffe800"/>
<rect x="643" y="145" width="2" height="4" fill="#b88800"/>
<rect x="612.5" y="143.8" width="7" height="3" fill="#000"/>
<rect x="613.5" y="144.6" width="5" height="1.4" fill="#c8c800"/>
<rect x="612.5" y="148" width="7" height="3.5" fill="#000"/>
<rect x="613.5" y="148.8" width="5" height="1.8" fill="#c8c800"/>
<rect x="621.8" y="158" width="10" height="1.6" fill="#c8c800"/>
<rect x="633.6" y="158" width="10.4" height="1.6" fill="#c8c800"/>
<polygon points="740,148.6 746,148.6 794,157.2 794,164 791.5,164 791.5,162 740,153.4" fill="#000"/>
<polygon points="741,149.6 746,149.6 793,158.1 793,163 792.5,163 792.5,161 741,152.6" fill="#b88800"/>
<polygon points="741,153.4 788,161.5 788,170.5 741,163" fill="#fff"/>
<polyline points="741,158.2 788,166" fill="none" stroke="#b88800" stroke-width="1"/>
<line x1="746" y1="154.3" x2="746" y2="163.5" stroke="#b88800" stroke-width="0.9"/>
<line x1="754" y1="155.6" x2="754" y2="164.8" stroke="#b88800" stroke-width="0.9"/>
<line x1="762" y1="157.0" x2="762" y2="166.2" stroke="#b88800" stroke-width="0.9"/>
<line x1="770" y1="158.4" x2="770" y2="167.6" stroke="#b88800" stroke-width="0.9"/>
<line x1="778" y1="159.8" x2="778" y2="169.0" stroke="#b88800" stroke-width="0.9"/>
<line x1="786" y1="161.1" x2="786" y2="170.3" stroke="#b88800" stroke-width="0.9"/>
<rect x="738.5" y="160.3" width="10" height="1.3" fill="#c8c800"/>
<rect x="765" y="163.8" width="9" height="1.3" fill="#c8c800"/>
<rect x="776" y="165.8" width="9" height="1.3" fill="#c8c800"/>
<polygon points="742.5,162.3 786,169.3 786,175.8 742.5,169" fill="#000"/>
<polygon points="743.8,163.4 785,170 785,174.5 743.8,167.9" fill="#ffe800"/>
<rect x="786" y="160" width="1.5" height="18" fill="#000"/>
<polygon points="784,178 791,178 791,185 788,189 787,189 784,185" fill="#000"/>
<rect x="785" y="179" width="5" height="5.5" fill="#ffe800"/></g></defs>
<use href="#p0"/><use href="#p0" transform="matrix(1 0 0 -1 0 537)"/>
<use href="#p1"/><use href="#p1" transform="matrix(1 0 0 -1 0 537)"/>
<use href="#p2"/><use href="#p2" transform="matrix(1 0 0 -1 0 537)"/>
<use href="#p3"/><use href="#p3" transform="matrix(1 0 0 -1 0 537)"/>
<rect x="3.5" y="78.5" width="192" height="380" fill="none" stroke="#000" stroke-width="1"/>
<rect x="204.5" y="78.5" width="192" height="380" fill="none" stroke="#000" stroke-width="1"/>
<rect x="404.5" y="74.5" width="192" height="388" fill="none" stroke="#000" stroke-width="1"/>
<rect x="604.5" y="69.5" width="192" height="398" fill="none" stroke="#000" stroke-width="1"/>
<rect x="0" y="268" width="799" height="1" fill="#000"/>
<g class="tx" opacity="0.999"><text x="16" y="18" textLength="175" lengthAdjust="spacing">www.juniorgeneral.org</text>
<text x="124" y="56">Galleys</text>
<text x="415" y="40">Lanterna (flagship)</text>
<text x="682" y="45">Galleass</text></g>
</svg>
</body></html>
